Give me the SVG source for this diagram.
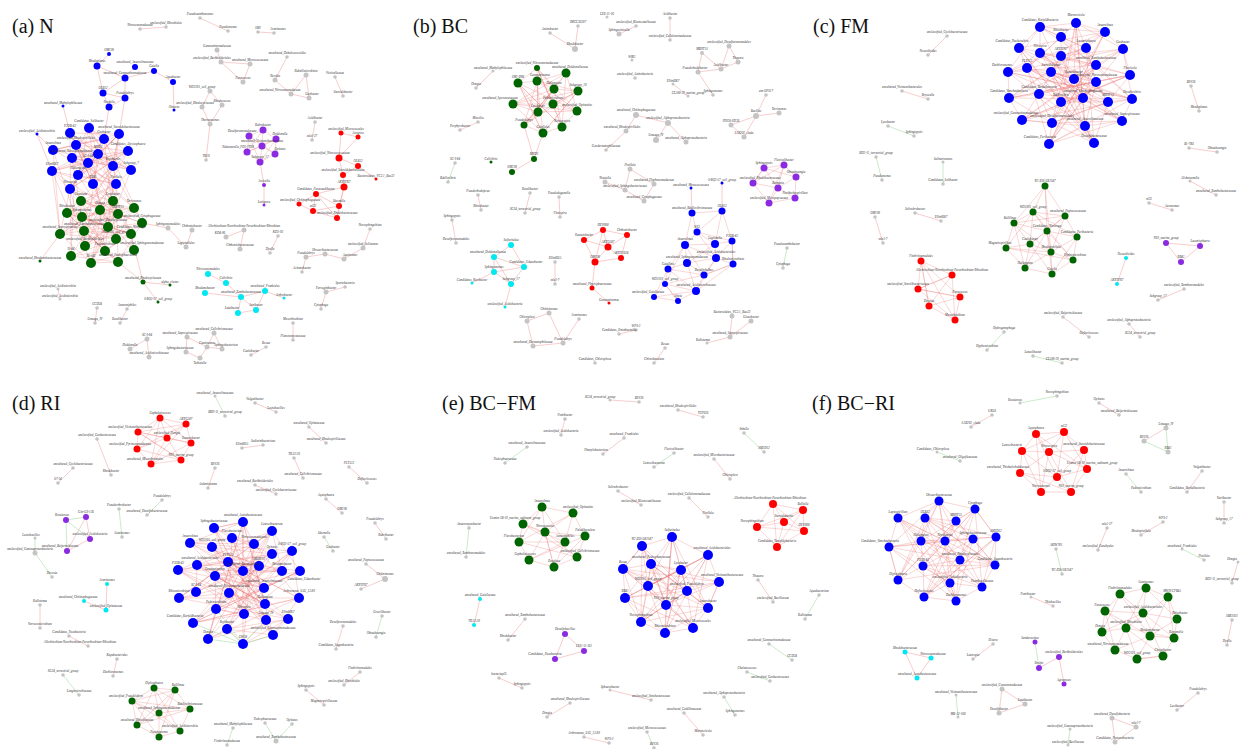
<svg xmlns="http://www.w3.org/2000/svg" width="1240" height="749" viewBox="0 0 1240 749">
<style>
text{font-family:"Liberation Serif",serif;font-style:italic;font-size:3.2px;fill:#333;text-anchor:middle}
text.t{font-style:normal;font-size:20px;fill:#111;text-anchor:start}
.b{fill:#0000ff}.g{fill:#006400}.r{fill:#ff0000}.p{fill:#8a2be2}.c{fill:#00e8f0}.y{fill:#c4c4c4}
.e{fill:none;stroke:#f3a3a3;stroke-width:.55}
.d{fill:none;stroke:#e86a6a;stroke-width:.42;stroke-opacity:.65}
.f{fill:none;stroke:#9fd89f;stroke-width:.55}
</style>
<rect width="1240" height="749" fill="#fff"/>

<!-- ============ (a) N ============ -->
<g id="panel-a">
<text class="t" x="12" y="33">(a) N</text>
<g id="a-connectors">
<path class="e" d="M109 54L97 66M97 66L125 78M97 66L103 93M135 67L125 78M154 71L125 78M154 71L173 82M173 82L174 110M125 78L103 93M125 78L125 98M103 93L125 98M103 93L109 107M125 98L109 107M109 107L104 139M125 98L119 134M63 106L70 133M37 134L53 150M37 134L52 171"/>
<path class="d" d="M89 128L98 154 70 133 113 166 119 134 78 175 104 139 93 184 76 145 116 184 53 150 131 170 72 158 128 151 52 171 88 163 70 189 119 134 53 150 104 139 70 189 128 151 76 145 113 166 89 128 131 170 98 154 52 171 93 184 72 158 116 184 78 175 119 134 70 133 88 163 128 151 89 128 104 139 53 150 98 154 116 184 52 171 119 134 88 163 76 145 131 170 70 133 93 184 113 166 72 158 89 128 78 175 128 151 70 189 98 154"/>
<path class="d" d="M81 201L118 214 67 213 108 227 113 201 84 231 134 208 116 239 100 210 60 234 142 223 85 246 82 217 134 250 131 234 105 251 71 256 118 262 91 263 113 201 60 234 118 214 85 246 134 208 100 210 71 256 116 239 81 201 142 223 105 251 67 213 131 234 84 231 118 262 82 217 108 227 91 263 134 250 100 210 81 201 134 208 82 217 131 234 108 227 85 246 113 201 67 213 105 251 84 231 116 239 60 234 91 263 118 214 142 223 118 262 105 251 81 201"/>
<path class="d" d="M78 175L100 210 70 189 113 201 93 184 118 214 52 171 81 201 116 184 67 213 113 166 82 217 131 170 108 227 88 163 134 208 72 158 84 231 128 151 60 234 53 150 85 246 98 154 131 234 70 133 71 256 76 145 116 239 104 139 142 223 89 128 105 251 119 134 91 263 52 171 60 234 70 189 85 246 116 184 118 262"/>
<path class="e" d="M60 234L40 261M118 262L143 282M131 234L143 282M143 282L170 285M143 282L158 302M142 223L168 228"/>
<path class="e" d="M140 29L166 27M200 18L228 31M258 32L274 33M217 50L221 62M221 62L250 64M221 62L243 82M250 64L243 82M287 57L275 80M275 80L291 94M306 75L291 94M306 75L309 98M291 94L309 98M335 77L343 96M315 122L312 140M210 91L222 105M210 91L202 107M202 107L210 124M222 105L210 124M210 124L206 160M168 228L186 247M192 230L186 247M226 237L244 230M244 230L240 249M278 236L270 253M370 229L363 248M363 248L344 259M344 259L325 254M325 254L306 257M306 257L302 272M345 287L326 292M326 292L321 309M208 274L226 283M226 283L241 297M205 293L241 297M241 297L256 310M241 297L238 313M238 313L256 310M256 310L265 291M265 291L284 298M265 291L241 297M293 323L293 340M187 337L186 352M186 352L200 358M187 337L207 347M207 347L200 358M214 333L207 347M214 333L222 349M207 347L222 349M266 347L251 355M147 339L130 349M147 339L149 357M97 308L95 323M127 309L120 323M58 289L60 299"/>
<path class="e" d="M264 185L264 205M264 185L260 162"/>
<path class="d" d="M263 130L249 136 247 152 260 162 275 154 276 139 263 130 262 146 249 136 275 154 262 146 247 152 276 139 260 162 262 146 276 139M263 130L247 152M249 136L260 162"/>
<path class="e" d="M341 133L358 137M341 133L339 158M358 137L339 158M339 158L358 166M339 158L343 175M358 166L343 175M358 166L376 179M343 175L344 187M344 187L316 194M344 187L339 206M344 187L337 218M316 194L299 204M316 194L313 211M316 194L339 206M313 211L339 206M313 211L337 218M339 206L337 218M299 204L313 211M316 194L337 218"/>
</g>
<g id="a-n1"><circle class="b" cx="109" cy="54" r="2"/><text x="109" y="51">OM190</text></g>
<g id="a-n2"><circle class="b" cx="97" cy="66" r="3.5"/><text x="97" y="61.5">Rhodoplanes</text></g>
<g id="a-n3"><circle class="b" cx="135" cy="67" r="3"/><text x="135" y="63">uncultured_Anaerolineaceae</text></g>
<g id="a-n4"><circle class="b" cx="154" cy="71" r="3"/><text x="154" y="67">Gaiella</text></g>
<g id="a-n5"><circle class="b" cx="125" cy="78" r="3.5"/><text x="125" y="73.5">uncultured_Gemmatimonadaceae</text></g>
<g id="a-n6"><circle class="b" cx="173" cy="82" r="3"/><text x="173" y="78">Aquabacter</text></g>
<g id="a-n7"><circle class="b" cx="103" cy="93" r="3.5"/><text x="103" y="88.5">OLB12</text></g>
<g id="a-n8"><circle class="b" cx="125" cy="98" r="3.5"/><text x="125" y="93.5">Pseudolabrys</text></g>
<g id="a-n9"><circle class="b" cx="109" cy="107" r="3.5"/><text x="109" y="102.5">Nordella</text></g>
<g id="a-n10"><circle class="b" cx="63" cy="106" r="1.5"/><text x="63" y="103.5">uncultured_Methylophilaceae</text></g>
<g id="a-n11"><circle class="b" cx="174" cy="110" r="1.5"/><text x="174" y="107.5">Ottowia</text></g>
<g id="a-n12"><circle class="b" cx="37" cy="134" r="1.5"/><text x="37" y="131.5">unclassified_Acidimicrobiia</text></g>
<g id="a-n13"><circle class="b" cx="89" cy="128" r="5"/><text x="89" y="122">Candidatus_Solibacter</text></g>
<g id="a-n14"><circle class="b" cx="70" cy="133" r="5"/><text x="70" y="127">P3OB-42</text></g>
<g id="a-n15"><circle class="b" cx="119" cy="134" r="5"/><text x="119" y="128">uncultured_Steroidobacteraceae</text></g>
<g id="a-n16"><circle class="b" cx="104" cy="139" r="5"/><text x="104" y="133">Geobacter</text></g>
<g id="a-n17"><circle class="b" cx="76" cy="145" r="5"/><text x="76" y="139">unclassified_Rhodospirillales</text></g>
<g id="a-n18"><circle class="b" cx="53" cy="150" r="5"/><text x="53" y="144">Anaerolinea</text></g>
<g id="a-n19"><circle class="b" cx="128" cy="151" r="5"/><text x="128" y="145">Candidatus_Alysiosphaera</text></g>
<g id="a-n20"><circle class="b" cx="98" cy="154" r="5"/><text x="98" y="148">MND1</text></g>
<g id="a-n21"><circle class="b" cx="72" cy="158" r="5"/><text x="72" y="152">uncultured_Nitrosomonadaceae</text></g>
<g id="a-n22"><circle class="b" cx="88" cy="163" r="5"/><text x="88" y="157">SC-I-84</text></g>
<g id="a-n23"><circle class="b" cx="113" cy="166" r="5"/><text x="113" y="160">Bryobacter</text></g>
<g id="a-n24"><circle class="b" cx="52" cy="171" r="5"/><text x="52" y="165">Ellin6067</text></g>
<g id="a-n25"><circle class="b" cx="131" cy="170" r="5"/><text x="131" y="164">Subgroup_7</text></g>
<g id="a-n26"><circle class="b" cx="78" cy="175" r="5"/><text x="78" y="169">Haliangium</text></g>
<g id="a-n27"><circle class="b" cx="93" cy="184" r="5"/><text x="93" y="178">RB41</text></g>
<g id="a-n28"><circle class="b" cx="116" cy="184" r="5"/><text x="116" y="178">Pirellula</text></g>
<g id="a-n29"><circle class="b" cx="70" cy="189" r="5"/><text x="70" y="183">Nitrospira</text></g>
<g id="a-n30"><circle class="g" cx="81" cy="201" r="5"/><text x="81" y="195">Gemmata</text></g>
<g id="a-n31"><circle class="g" cx="113" cy="201" r="5"/><text x="113" y="195">Lysobacter</text></g>
<g id="a-n32"><circle class="g" cx="134" cy="208" r="5"/><text x="134" y="202">Terrimonas</text></g>
<g id="a-n33"><circle class="g" cx="100" cy="210" r="5"/><text x="100" y="204">Dongia</text></g>
<g id="a-n34"><circle class="g" cx="67" cy="213" r="5"/><text x="67" y="207">Rhizobacter</text></g>
<g id="a-n35"><circle class="g" cx="118" cy="214" r="5"/><text x="118" y="208">MBNT15</text></g>
<g id="a-n36"><circle class="g" cx="82" cy="217" r="5"/><text x="82" y="211">Sphingomonas</text></g>
<g id="a-n37"><circle class="g" cx="142" cy="223" r="5"/><text x="142" y="217">unclassified_Cytophagaceae</text></g>
<g id="a-n38"><circle class="g" cx="108" cy="227" r="5"/><text x="108" y="221">unclassified_Rhodocyclaceae</text></g>
<g id="a-n39"><circle class="g" cx="84" cy="231" r="5"/><text x="84" y="225">uncultured_Xanthobacteraceae</text></g>
<g id="a-n40"><circle class="g" cx="60" cy="234" r="5"/><text x="60" y="228">uncultured_Saprospiraceae</text></g>
<g id="a-n41"><circle class="g" cx="131" cy="234" r="5"/><text x="131" y="228">Candidatus_Nitrotoga</text></g>
<g id="a-n42"><circle class="g" cx="116" cy="239" r="5"/><text x="116" y="233">WD2101_soil_group</text></g>
<g id="a-n43"><circle class="g" cx="85" cy="246" r="5"/><text x="85" y="240">unclassified_Burkholderiales</text></g>
<g id="a-n44"><circle class="g" cx="105" cy="251" r="5"/><text x="105" y="245">Pedomicrobium</text></g>
<g id="a-n45"><circle class="g" cx="134" cy="250" r="5"/><text x="142" y="244">unclassified_Sphingomonadaceae</text></g>
<g id="a-n46"><circle class="g" cx="71" cy="256" r="5"/><text x="71" y="250">IS-44</text></g>
<g id="a-n47"><circle class="g" cx="91" cy="263" r="5"/><text x="91" y="257">BIrii41</text></g>
<g id="a-n48"><circle class="g" cx="118" cy="262" r="5"/><text x="118" y="256">uncultured_Pedosphaeraceae</text></g>
<g id="a-n49"><circle class="g" cx="40" cy="261" r="1.5"/><text x="40" y="258.5">uncultured_Rhodanobacteraceae</text></g>
<g id="a-n50"><circle class="g" cx="143" cy="282" r="2.5"/><text x="143" y="278.5">uncultured_Rhodocyclaceae</text></g>
<g id="a-n51"><circle class="g" cx="170" cy="285" r="1.5"/><text x="170" y="282.5">alpha_cluster</text></g>
<g id="a-n52"><circle class="g" cx="158" cy="302" r="1.5"/><text x="158" y="299.5">S-BQ2-57_soil_group</text></g>
<g id="a-n53"><circle class="y" cx="140" cy="29" r="1.8"/><text x="140" y="26">Nitrosomonadaceae</text></g>
<g id="a-n54"><circle class="y" cx="166" cy="27" r="1.8"/><text x="166" y="24">unclassified_Rhizobiales</text></g>
<g id="a-n55"><circle class="y" cx="200" cy="18" r="1.8"/><text x="200" y="15">Pseudoxanthomonas</text></g>
<g id="a-n56"><circle class="y" cx="228" cy="31" r="1.8"/><text x="228" y="28">Pseudomonas</text></g>
<g id="a-n57"><circle class="y" cx="258" cy="32" r="1.8"/><text x="258" y="29">SM1</text></g>
<g id="a-n58"><circle class="y" cx="274" cy="33" r="1.8"/><text x="278" y="30">Arenimonas</text></g>
<g id="a-n59"><circle class="y" cx="217" cy="50" r="2.5"/><text x="217" y="46.5">Gemmatimonadaceae</text></g>
<g id="a-n60"><circle class="y" cx="221" cy="62" r="2.5"/><text x="212" y="58.5">unclassified_Burkholderiales</text></g>
<g id="a-n61"><circle class="y" cx="250" cy="64" r="2.5"/><text x="250" y="60.5">uncultured_Micrococcaceae</text></g>
<g id="a-n62"><circle class="y" cx="243" cy="82" r="2.5"/><text x="243" y="78.5">Paracoccus</text></g>
<g id="a-n63"><circle class="y" cx="287" cy="57" r="1.8"/><text x="287" y="54">uncultured_Dehalococcoidia</text></g>
<g id="a-n64"><circle class="y" cx="275" cy="80" r="2.5"/><text x="275" y="76.5">Nevskia</text></g>
<g id="a-n65"><circle class="y" cx="306" cy="75" r="2.5"/><text x="306" y="71.5">Rubellimicrobium</text></g>
<g id="a-n66"><circle class="y" cx="291" cy="94" r="2.5"/><text x="280" y="90.5">uncultured_Nitrosomonadaceae</text></g>
<g id="a-n67"><circle class="y" cx="309" cy="98" r="2.5"/><text x="312" y="94.5">Geobacter</text></g>
<g id="a-n68"><circle class="y" cx="335" cy="77" r="1.8"/><text x="335" y="74">Victivallaceae</text></g>
<g id="a-n69"><circle class="y" cx="343" cy="96" r="1.8"/><text x="343" y="93">Steroidobacter</text></g>
<g id="a-n70"><circle class="y" cx="315" cy="122" r="1.8"/><text x="315" y="119">Acidibacter</text></g>
<g id="a-n71"><circle class="y" cx="312" cy="140" r="1.8"/><text x="312" y="137">mle1-27</text></g>
<g id="a-n72"><circle class="y" cx="210" cy="91" r="2.5"/><text x="202" y="87.5">WD2101_soil_group</text></g>
<g id="a-n73"><circle class="y" cx="222" cy="105" r="2.5"/><text x="222" y="101.5">Rhodococcus</text></g>
<g id="a-n74"><circle class="y" cx="202" cy="107" r="2.5"/><text x="195" y="103.5">unclassified_Rhodocyclaceae</text></g>
<g id="a-n75"><circle class="y" cx="210" cy="124" r="2.5"/><text x="210" y="120.5">Thermomonas</text></g>
<g id="a-n76"><circle class="y" cx="206" cy="160" r="1.8"/><text x="206" y="157">TK10</text></g>
<g id="a-n77"><circle class="y" cx="168" cy="228" r="2.5"/><text x="168" y="224.5">Sphingomonadales</text></g>
<g id="a-n78"><circle class="y" cx="192" cy="230" r="2.5"/><text x="192" y="226.5">Chthoniobacter</text></g>
<g id="a-n79"><circle class="y" cx="186" cy="247" r="2.5"/><text x="186" y="243.5">Legionellales</text></g>
<g id="a-n80"><circle class="y" cx="226" cy="237" r="2.5"/><text x="220" y="233.5">KD4-96</text></g>
<g id="a-n81"><circle class="y" cx="244" cy="230" r="2.5"/><text x="244" y="226.5">Allorhizobium-Neorhizobium-Pararhizobium-Rhizobium</text></g>
<g id="a-n82"><circle class="y" cx="240" cy="249" r="2.5"/><text x="240" y="245.5">Chthoniobacteraceae</text></g>
<g id="a-n83"><circle class="y" cx="278" cy="236" r="1.8"/><text x="278" y="233">KD3-93</text></g>
<g id="a-n84"><circle class="y" cx="270" cy="253" r="1.8"/><text x="270" y="250">Dyella</text></g>
<g id="a-n85"><circle class="y" cx="370" cy="229" r="1.8"/><text x="370" y="226">Novosphingobium</text></g>
<g id="a-n86"><circle class="y" cx="363" cy="248" r="2.5"/><text x="363" y="244.5">unclassified_Solimonas</text></g>
<g id="a-n87"><circle class="y" cx="344" cy="259" r="2.5"/><text x="350" y="255.5">Aquimonas</text></g>
<g id="a-n88"><circle class="y" cx="325" cy="254" r="2.5"/><text x="325" y="250.5">Obscuribacteraceae</text></g>
<g id="a-n89"><circle class="y" cx="306" cy="257" r="2.5"/><text x="306" y="253.5">Pseudolabrys</text></g>
<g id="a-n90"><circle class="y" cx="302" cy="272" r="1.8"/><text x="302" y="269">Acinetobacter</text></g>
<g id="a-n91"><circle class="y" cx="345" cy="287" r="1.8"/><text x="345" y="284">Spartobacteria</text></g>
<g id="a-n92"><circle class="y" cx="326" cy="292" r="2.5"/><text x="326" y="288.5">Ferruginibacter</text></g>
<g id="a-n93"><circle class="y" cx="321" cy="309" r="1.8"/><text x="321" y="306">Cytophaga</text></g>
<g id="a-n94"><circle class="c" cx="208" cy="274" r="3"/><text x="208" y="270">Nitrosomonadales</text></g>
<g id="a-n95"><circle class="c" cx="226" cy="283" r="3"/><text x="226" y="279">Cellvibrio</text></g>
<g id="a-n96"><circle class="c" cx="205" cy="293" r="3"/><text x="205" y="289">Rhodanobacter</text></g>
<g id="a-n97"><circle class="c" cx="241" cy="297" r="3"/><text x="241" y="293">uncultured_Xanthobacteraceae</text></g>
<g id="a-n98"><circle class="c" cx="265" cy="291" r="3"/><text x="265" y="287">uncultured_Frankiales</text></g>
<g id="a-n99"><circle class="c" cx="284" cy="298" r="1.5"/><text x="284" y="295.5">Arthrobacter</text></g>
<g id="a-n100"><circle class="c" cx="256" cy="310" r="3"/><text x="256" y="306">Janibacter</text></g>
<g id="a-n101"><circle class="c" cx="238" cy="313" r="3"/><text x="232" y="309">Luteibacter</text></g>
<g id="a-n102"><circle class="y" cx="293" cy="323" r="1.8"/><text x="293" y="320">Mesorhizobium</text></g>
<g id="a-n103"><circle class="y" cx="293" cy="340" r="1.8"/><text x="293" y="337">Planctomycetaceae</text></g>
<g id="a-n104"><circle class="y" cx="187" cy="337" r="2.5"/><text x="180" y="333.5">uncultured_Saprospiraceae</text></g>
<g id="a-n105"><circle class="y" cx="186" cy="352" r="2.5"/><text x="180" y="348.5">Sphingobacteriaceae</text></g>
<g id="a-n106"><circle class="y" cx="200" cy="358" r="2.5"/><text x="200" y="364">Taibaiella</text></g>
<g id="a-n107"><circle class="y" cx="207" cy="347" r="2.5"/><text x="207" y="343.5">Caenimonas</text></g>
<g id="a-n108"><circle class="y" cx="214" cy="333" r="2.5"/><text x="214" y="329.5">uncultured_Cellvibrionaceae</text></g>
<g id="a-n109"><circle class="y" cx="222" cy="349" r="2.5"/><text x="226" y="345.5">Sphingobacterium</text></g>
<g id="a-n110"><circle class="y" cx="266" cy="347" r="1.8"/><text x="266" y="344">Bosea</text></g>
<g id="a-n111"><circle class="y" cx="251" cy="355" r="1.8"/><text x="251" y="352">Caulobacter</text></g>
<g id="a-n112"><circle class="y" cx="147" cy="339" r="2.5"/><text x="147" y="335.5">SC-I-84</text></g>
<g id="a-n113"><circle class="y" cx="130" cy="349" r="2.5"/><text x="130" y="345.5">Dokdonella</text></g>
<g id="a-n114"><circle class="y" cx="149" cy="357" r="2.5"/><text x="149" y="353.5">uncultured_Acidimicrobiaceae</text></g>
<g id="a-n115"><circle class="y" cx="97" cy="308" r="1.8"/><text x="97" y="305">CCD24</text></g>
<g id="a-n116"><circle class="y" cx="95" cy="323" r="1.8"/><text x="95" y="320">Lineage_IV</text></g>
<g id="a-n117"><circle class="y" cx="127" cy="309" r="1.8"/><text x="127" y="306">Ammoniphilus</text></g>
<g id="a-n118"><circle class="y" cx="120" cy="323" r="1.8"/><text x="120" y="320">Ramlibacter</text></g>
<g id="a-n119"><circle class="y" cx="58" cy="289" r="1.5"/><text x="58" y="286.5">unclassified_Acidimicrobiia</text></g>
<g id="a-n120"><circle class="y" cx="60" cy="299" r="1.5"/><text x="60" y="296.5">unclassified_Acidimicrobiia</text></g>
<g id="a-n121"><circle class="p" cx="263" cy="130" r="3.5"/><text x="263" y="125.5">Rubrobacter</text></g>
<g id="a-n122"><circle class="p" cx="249" cy="136" r="3.5"/><text x="242" y="131.5">Desulfuromonadaceae</text></g>
<g id="a-n123"><circle class="p" cx="276" cy="139" r="3.5"/><text x="280" y="134.5">Dokdonella</text></g>
<g id="a-n124"><circle class="p" cx="262" cy="146" r="3.5"/><text x="262" y="141.5">uncultured_Vicinamibacteraceae</text></g>
<g id="a-n125"><circle class="p" cx="247" cy="152" r="3.5"/><text x="238" y="147.5">Nakamurella_PD2-7T08</text></g>
<g id="a-n126"><circle class="p" cx="275" cy="154" r="3.5"/><text x="280" y="149.5">Opitutus</text></g>
<g id="a-n127"><circle class="p" cx="260" cy="162" r="3.5"/><text x="260" y="157.5">Subgroup_17</text></g>
<g id="a-n128"><circle class="p" cx="264" cy="185" r="2"/><text x="264" y="182">Arcicella</text></g>
<g id="a-n129"><circle class="p" cx="264" cy="205" r="1.5"/><text x="264" y="202.5">Lutispora</text></g>
<g id="a-n131"><circle class="r" cx="341" cy="133" r="2.5"/><text x="346" y="129.5">unclassified_Micrococcales</text></g>
<g id="a-n132"><circle class="r" cx="358" cy="137" r="2.5"/><text x="358" y="133.5">Azospira</text></g>
<g id="a-n133"><circle class="r" cx="339" cy="158" r="3.5"/><text x="330" y="153.5">unclassified_Nitrosococcaceae</text></g>
<g id="a-n134"><circle class="r" cx="358" cy="166" r="3"/><text x="358" y="162">OLB12</text></g>
<g id="a-n135"><circle class="r" cx="343" cy="175" r="3"/><text x="343" y="171">unclassified_Steroidobacteraceae</text></g>
<g id="a-n136"><circle class="r" cx="376" cy="179" r="1.5"/><text x="376" y="176.5">Bacteroidetes_VC2.1_Bac22</text></g>
<g id="a-n137"><circle class="r" cx="344" cy="187" r="3.5"/><text x="344" y="182.5">AKYH767</text></g>
<g id="a-n138"><circle class="r" cx="316" cy="194" r="3"/><text x="316" y="190">Candidatus_Paracaedibacter</text></g>
<g id="a-n139"><circle class="r" cx="299" cy="204" r="2.5"/><text x="300" y="200.5">unclassified_Chitinophagaceae</text></g>
<g id="a-n140"><circle class="r" cx="339" cy="206" r="3"/><text x="339" y="202">Ideonella</text></g>
<g id="a-n141"><circle class="r" cx="313" cy="211" r="3"/><text x="313" y="207">ml32</text></g>
<g id="a-n142"><circle class="r" cx="337" cy="218" r="3"/><text x="337" y="214">unclassified_Rhodobacteraceae</text></g>
</g>

<!-- ============ (b) BC ============ -->
<g id="panel-b">
<text class="t" x="413" y="33">(b) BC</text>
<g id="b-connectors">
<path class="e" d="M550 33L575 49M578 26L575 49M493 71L476 88M478 122L460 130M478 195L481 210M530 193L525 213M559 197L560 217M452 220L456 243M555 262L555 284M549 313L527 321M549 313L563 343M527 321L533 346M533 346L563 343M563 343L579 319M605 182L625 190M630 169L625 190M625 190L644 201M654 184L644 201M630 169L654 184M670 18L670 40M636 26L619 34M729 46L738 62M702 53L721 69M702 53L698 72M721 69L738 62M729 46L721 69M698 72L713 95M698 72L721 69M673 84L688 96M766 95L756 116M756 116L779 113M756 116L731 125M731 125L744 137M756 116L744 137M636 115L668 123M668 123L656 140M668 123L686 142M636 115L626 131M626 131L606 150M691 188L692 213M722 183L722 211M732 316L730 337M751 321L730 337M730 337L707 343M665 348L654 363M636 330L619 334M524 125L534 159M543 133L534 159M534 159L512 172"/>
<path class="f" d="M455 163L448 182M787 248L783 268"/>
<path class="d" d="M537 68L538 112 566 73 513 104 578 91 543 133 518 83 577 111 537 81 524 125 554 89 562 127 553 104 537 68 554 89 513 104 577 111 566 73 537 81 543 133 578 91 524 125 538 112 518 83 562 127 537 68 553 104 578 91 537 81 538 112 554 89 524 125 566 73 562 127 518 83 543 133 513 104 553 104 577 111 537 68 518 83 537 81 554 89 578 91 553 104 524 125 543 133 562 127 577 111 538 112 513 104"/>
<path class="e" d="M511 245L494 257M511 245L524 267M494 257L524 267M494 257L494 272M494 272L524 267M494 272L511 284M524 267L511 284M494 272L472 283M511 284L505 307M494 257L511 284"/>
<path class="e" d="M603 230L584 240M603 230L608 247M584 240L608 247M584 240L595 262M608 247L595 262M603 230L627 235M608 247L627 235M608 247L621 258M595 262L621 258M627 235L621 258M603 230L595 262M595 262L592 288M592 288L609 303"/>
<path class="d" d="M692 213L722 211 697 232 692 213 685 245 697 232 715 244 722 211 732 241 715 244 716 258 733 264 732 241 716 258 687 263 685 245 668 269 687 263 704 275 716 258 696 291 704 275 733 264 696 291 665 284 668 269 654 297 665 284 678 301 696 291 687 263 715 244 685 245 716 258 697 232 732 241 733 264 704 275 665 284 678 301 654 297 696 291 668 269 704 275 685 245 665 284"/>
<path class="d" d="M764 168L784 165 796 177 778 188 764 168 753 183 778 188 769 203 753 183 764 168 796 177 795 198 778 188 784 165 753 183M769 203L795 198M784 165L769 203"/>
</g>
<g id="b-n1"><circle class="y" cx="550" cy="33" r="1.8"/><text x="550" y="30">Aminobacter</text></g>
<g id="b-n2"><circle class="y" cx="578" cy="26" r="1.8"/><text x="578" y="23">IMCC26207</text></g>
<g id="b-n3"><circle class="y" cx="575" cy="49" r="3"/><text x="575" y="45">Rhodobacter</text></g>
<g id="b-n4"><circle class="g" cx="537" cy="68" r="3"/><text x="537" y="64">unclassified_Nitrosomonadaceae</text></g>
<g id="b-n5"><circle class="g" cx="566" cy="73" r="4.5"/><text x="570" y="67.5">uncultured_Dokdonellaceae</text></g>
<g id="b-n6"><circle class="g" cx="518" cy="83" r="4.5"/><text x="518" y="77.5">SM1-D08</text></g>
<g id="b-n7"><circle class="g" cx="537" cy="81" r="4.5"/><text x="540" y="75.5">Gemmatimonas</text></g>
<g id="b-n8"><circle class="g" cx="554" cy="89" r="4.5"/><text x="554" y="83.5">Haliangium</text></g>
<g id="b-n9"><circle class="g" cx="578" cy="91" r="4.5"/><text x="578" y="85.5">Subgroup_10</text></g>
<g id="b-n10"><circle class="g" cx="513" cy="104" r="4.5"/><text x="500" y="98.5">uncultured_Sporomusaceae</text></g>
<g id="b-n11"><circle class="g" cx="553" cy="104" r="4.5"/><text x="553" y="98.5">Pedomicrobium</text></g>
<g id="b-n12"><circle class="g" cx="538" cy="112" r="4.5"/><text x="538" y="106.5">Lysobacter</text></g>
<g id="b-n13"><circle class="g" cx="577" cy="111" r="4.5"/><text x="577" y="105.5">unclassified_Opitutales</text></g>
<g id="b-n14"><circle class="g" cx="524" cy="125" r="3.5"/><text x="524" y="120.5">Pseudolabrys</text></g>
<g id="b-n15"><circle class="g" cx="562" cy="127" r="4.5"/><text x="562" y="121.5">Nitrosospira</text></g>
<g id="b-n16"><circle class="g" cx="543" cy="133" r="4.5"/><text x="543" y="127.5">Gaiellales</text></g>
<g id="b-n17"><circle class="g" cx="534" cy="159" r="3"/><text x="534" y="155">MND1</text></g>
<g id="b-n18"><circle class="g" cx="491" cy="162" r="1.5"/><text x="491" y="159.5">Cellvibrio</text></g>
<g id="b-n19"><circle class="g" cx="512" cy="172" r="3"/><text x="512" y="168">OM190</text></g>
<g id="b-n20"><circle class="y" cx="493" cy="71" r="1.5"/><text x="493" y="68.5">uncultured_Methylophilaceae</text></g>
<g id="b-n21"><circle class="y" cx="476" cy="88" r="1.8"/><text x="476" y="85">Dongia</text></g>
<g id="b-n22"><circle class="y" cx="478" cy="122" r="1.8"/><text x="478" y="119">Massilia</text></g>
<g id="b-n23"><circle class="y" cx="460" cy="130" r="1.8"/><text x="460" y="127">Porphyrobacter</text></g>
<g id="b-n24"><circle class="y" cx="455" cy="163" r="1.8"/><text x="455" y="160">SC-I-84</text></g>
<g id="b-n25"><circle class="y" cx="448" cy="182" r="1.8"/><text x="448" y="179">Bdellovibrio</text></g>
<g id="b-n26"><circle class="y" cx="478" cy="195" r="1.8"/><text x="478" y="192">Pseudorhodoferax</text></g>
<g id="b-n27"><circle class="y" cx="481" cy="210" r="1.8"/><text x="481" y="207">Rhizobacter</text></g>
<g id="b-n28"><circle class="y" cx="530" cy="193" r="1.8"/><text x="530" y="190">Ramlibacter</text></g>
<g id="b-n29"><circle class="y" cx="525" cy="213" r="1.8"/><text x="525" y="210">SG34_terrestrial_group</text></g>
<g id="b-n30"><circle class="y" cx="559" cy="197" r="1.8"/><text x="559" y="194">Pseudoduganella</text></g>
<g id="b-n31"><circle class="y" cx="560" cy="217" r="1.8"/><text x="560" y="214">Flexispira</text></g>
<g id="b-n32"><circle class="y" cx="452" cy="220" r="1.8"/><text x="452" y="217">Sphingopyxis</text></g>
<g id="b-n33"><circle class="y" cx="456" cy="243" r="1.8"/><text x="456" y="240">Desulfuromonadales</text></g>
<g id="b-n34"><circle class="c" cx="511" cy="245" r="3"/><text x="511" y="241">Sulfuritalea</text></g>
<g id="b-n35"><circle class="c" cx="494" cy="257" r="3"/><text x="488" y="253">uncultured_Dokdonellaceae</text></g>
<g id="b-n36"><circle class="c" cx="524" cy="267" r="3"/><text x="526" y="263">Candidatus_Udaeobacter</text></g>
<g id="b-n37"><circle class="c" cx="494" cy="272" r="3"/><text x="494" y="268">Sphingomonas</text></g>
<g id="b-n38"><circle class="c" cx="511" cy="284" r="3"/><text x="511" y="280">Subgroup_17</text></g>
<g id="b-n39"><circle class="c" cx="472" cy="283" r="1.5"/><text x="472" y="280.5">Candidatus_Koribacter</text></g>
<g id="b-n40"><circle class="c" cx="505" cy="307" r="1.5"/><text x="505" y="304.5">unclassified_Acidobacteria</text></g>
<g id="b-n41"><circle class="y" cx="555" cy="262" r="1.8"/><text x="555" y="259">Ellin6055</text></g>
<g id="b-n42"><circle class="y" cx="555" cy="284" r="1.8"/><text x="555" y="281">mle1-7</text></g>
<g id="b-n43"><circle class="r" cx="603" cy="230" r="3"/><text x="603" y="226">DEV008</text></g>
<g id="b-n44"><circle class="r" cx="584" cy="240" r="3"/><text x="584" y="236">Ilumatobacter</text></g>
<g id="b-n45"><circle class="r" cx="608" cy="247" r="3.5"/><text x="608" y="242.5">AKYG587</text></g>
<g id="b-n46"><circle class="r" cx="595" cy="262" r="3.5"/><text x="595" y="257.5">OM190</text></g>
<g id="b-n47"><circle class="r" cx="627" cy="235" r="3"/><text x="627" y="231">Chthoniobacter</text></g>
<g id="b-n48"><circle class="r" cx="621" cy="258" r="3"/><text x="621" y="254">AKYH1024</text></g>
<g id="b-n49"><circle class="r" cx="592" cy="288" r="2.5"/><text x="592" y="284.5">uncultured_Phycisphaeraceae</text></g>
<g id="b-n50"><circle class="r" cx="609" cy="303" r="1.5"/><text x="609" y="300.5">Gemmatimonas</text></g>
<g id="b-n51"><circle class="y" cx="549" cy="313" r="2.5"/><text x="549" y="309.5">Chitinimonas</text></g>
<g id="b-n52"><circle class="y" cx="527" cy="321" r="2.5"/><text x="527" y="317.5">Chloroplast</text></g>
<g id="b-n53"><circle class="y" cx="563" cy="343" r="2.5"/><text x="563" y="339.5">Pseudolabrys</text></g>
<g id="b-n54"><circle class="y" cx="533" cy="346" r="2.5"/><text x="533" y="342.5">uncultured_Dermatophilaceae</text></g>
<g id="b-n55"><circle class="y" cx="579" cy="319" r="1.8"/><text x="579" y="316">Arenimonas</text></g>
<g id="b-n56"><circle class="y" cx="595" cy="363" r="1.8"/><text x="595" y="360">Candidatus_Chloroploca</text></g>
<g id="b-n57"><circle class="y" cx="605" cy="182" r="2.5"/><text x="605" y="178.5">Niastella</text></g>
<g id="b-n58"><circle class="y" cx="630" cy="169" r="2.5"/><text x="630" y="165.5">Pirellula</text></g>
<g id="b-n59"><circle class="y" cx="654" cy="184" r="2.5"/><text x="654" y="180.5">uncultured_Hyphomonadaceae</text></g>
<g id="b-n60"><circle class="y" cx="625" cy="190" r="2.5"/><text x="625" y="186.5">unclassified_Sphingobacteriaceae</text></g>
<g id="b-n61"><circle class="y" cx="644" cy="201" r="2.5"/><text x="644" y="197.5">uncultured_Cytophagaceae</text></g>
<g id="b-n62"><circle class="y" cx="670" cy="18" r="1.8"/><text x="670" y="15">Aridibacter</text></g>
<g id="b-n63"><circle class="y" cx="670" cy="40" r="1.8"/><text x="670" y="37">unclassified_Cellulomonadaceae</text></g>
<g id="b-n64"><circle class="y" cx="636" cy="26" r="1.8"/><text x="636" y="23">unclassified_Blastocatellaceae</text></g>
<g id="b-n65"><circle class="y" cx="619" cy="34" r="2.5"/><text x="619" y="30.5">Sphingosinicella</text></g>
<g id="b-n66"><circle class="y" cx="607" cy="17" r="1.5"/><text x="607" y="14.5">LEE-11-16</text></g>
<g id="b-n67"><circle class="y" cx="632" cy="60" r="1.5"/><text x="632" y="57.5">WIK1</text></g>
<g id="b-n68"><circle class="y" cx="635" cy="78" r="1.8"/><text x="635" y="75">unclassified_Actinobacteria</text></g>
<g id="b-n69"><circle class="y" cx="729" cy="46" r="2.5"/><text x="729" y="42.5">unclassified_Desulfuromonadales</text></g>
<g id="b-n70"><circle class="y" cx="702" cy="53" r="2"/><text x="702" y="50">MBNT15</text></g>
<g id="b-n71"><circle class="y" cx="738" cy="62" r="2.5"/><text x="738" y="58.5">Thauera</text></g>
<g id="b-n72"><circle class="y" cx="721" cy="69" r="2.5"/><text x="721" y="65.5">Acidibacter</text></g>
<g id="b-n73"><circle class="y" cx="698" cy="72" r="2.5"/><text x="695" y="68.5">Pseudorhodobacter</text></g>
<g id="b-n74"><circle class="y" cx="713" cy="95" r="1.8"/><text x="713" y="92">Sphingomonas</text></g>
<g id="b-n75"><circle class="y" cx="673" cy="84" r="1.5"/><text x="673" y="81.5">Ellin6067</text></g>
<g id="b-n76"><circle class="y" cx="688" cy="96" r="1.5"/><text x="688" y="93.5">CL500-29_marine_group</text></g>
<g id="b-n77"><circle class="y" cx="766" cy="95" r="1.8"/><text x="766" y="92">env.OPS17</text></g>
<g id="b-n78"><circle class="y" cx="756" cy="116" r="3"/><text x="756" y="112">Bacillus</text></g>
<g id="b-n79"><circle class="y" cx="779" cy="113" r="2.5"/><text x="779" y="109.5">Terrimonas</text></g>
<g id="b-n80"><circle class="y" cx="731" cy="125" r="2.5"/><text x="731" y="121.5">PHOS-HE36</text></g>
<g id="b-n81"><circle class="y" cx="744" cy="137" r="2.5"/><text x="744" y="133.5">SAR202_clade</text></g>
<g id="b-n82"><circle class="y" cx="636" cy="115" r="3"/><text x="636" y="111">uncultured_Chitinophagaceae</text></g>
<g id="b-n83"><circle class="y" cx="668" cy="123" r="3"/><text x="668" y="119">unclassified_Alphaproteobacteria</text></g>
<g id="b-n84"><circle class="y" cx="626" cy="131" r="2.5"/><text x="622" y="127.5">uncultured_Rhodospirillales</text></g>
<g id="b-n85"><circle class="y" cx="656" cy="140" r="3"/><text x="656" y="136">Lineage_IV</text></g>
<g id="b-n86"><circle class="y" cx="686" cy="142" r="2.5"/><text x="686" y="138.5">uncultured_Alphaproteobacteria</text></g>
<g id="b-n87"><circle class="y" cx="606" cy="150" r="1.8"/><text x="606" y="147">Geodermatophilaceae</text></g>
<g id="b-n88"><circle class="b" cx="691" cy="188" r="1.5"/><text x="691" y="185.5">uncultured_Myxococcaceae</text></g>
<g id="b-n89"><circle class="b" cx="722" cy="183" r="1.5"/><text x="722" y="180.5">S-BQ2-57_soil_group</text></g>
<g id="b-n90"><circle class="b" cx="692" cy="213" r="3.5"/><text x="692" y="208.5">uncultured_Bdellovibrionaceae</text></g>
<g id="b-n91"><circle class="b" cx="722" cy="211" r="3.5"/><text x="722" y="206.5">OLB12</text></g>
<g id="b-n92"><circle class="b" cx="697" cy="232" r="3.5"/><text x="697" y="227.5">WS3</text></g>
<g id="b-n93"><circle class="b" cx="685" cy="245" r="4"/><text x="685" y="240">Anaerolinea</text></g>
<g id="b-n94"><circle class="b" cx="715" cy="244" r="4"/><text x="715" y="239">Legionella</text></g>
<g id="b-n95"><circle class="b" cx="732" cy="241" r="3.5"/><text x="732" y="236.5">P3OB-42</text></g>
<g id="b-n96"><circle class="b" cx="716" cy="258" r="4"/><text x="716" y="253">unclassified_Acidobacteriales</text></g>
<g id="b-n97"><circle class="b" cx="687" cy="263" r="4"/><text x="687" y="258">uncultured_Sphingomonadaceae</text></g>
<g id="b-n98"><circle class="b" cx="733" cy="264" r="3.5"/><text x="733" y="259.5">Rhodomicrobium</text></g>
<g id="b-n99"><circle class="b" cx="668" cy="269" r="3.5"/><text x="668" y="264.5">Gaiellina</text></g>
<g id="b-n100"><circle class="b" cx="704" cy="275" r="3.5"/><text x="704" y="270.5">Desulfobulbus</text></g>
<g id="b-n101"><circle class="b" cx="665" cy="284" r="3"/><text x="665" y="280">WD2101_soil_group</text></g>
<g id="b-n102"><circle class="b" cx="696" cy="291" r="4"/><text x="696" y="286">uncultured_Acidimicrobiaceae</text></g>
<g id="b-n103"><circle class="b" cx="654" cy="297" r="3"/><text x="648" y="293">unclassified_Gaiellaceae</text></g>
<g id="b-n104"><circle class="b" cx="678" cy="301" r="3"/><text x="678" y="297">Afipia</text></g>
<g id="b-n105"><circle class="p" cx="764" cy="168" r="3.5"/><text x="764" y="163.5">Sphingopyxis</text></g>
<g id="b-n106"><circle class="p" cx="784" cy="165" r="3.5"/><text x="784" y="160.5">Flavisolibacter</text></g>
<g id="b-n107"><circle class="p" cx="796" cy="177" r="3.5"/><text x="796" y="172.5">Ohtaekwangia</text></g>
<g id="b-n108"><circle class="p" cx="753" cy="183" r="3.5"/><text x="760" y="178.5">unclassified_Rhodobacteraceae</text></g>
<g id="b-n109"><circle class="p" cx="778" cy="188" r="3.5"/><text x="778" y="183.5">Belnapia</text></g>
<g id="b-n110"><circle class="p" cx="769" cy="203" r="3.5"/><text x="769" y="198.5">unclassified_Micropepsaceae</text></g>
<g id="b-n111"><circle class="p" cx="795" cy="198" r="3.5"/><text x="795" y="193.5">Noviherbaspirillum</text></g>
<g id="b-n112"><circle class="y" cx="787" cy="248" r="1.8"/><text x="787" y="245">Pseudoxanthobacter</text></g>
<g id="b-n113"><circle class="y" cx="783" cy="268" r="1.8"/><text x="783" y="265">Cytophaga</text></g>
<g id="b-n114"><circle class="y" cx="732" cy="316" r="2.5"/><text x="732" y="312.5">Bacteroidetes_VC2.1_Bac22</text></g>
<g id="b-n115"><circle class="y" cx="751" cy="321" r="2.5"/><text x="751" y="317.5">Gloeobacter</text></g>
<g id="b-n116"><circle class="y" cx="730" cy="337" r="2.5"/><text x="730" y="333.5">uncultured_Saprospiraceae</text></g>
<g id="b-n117"><circle class="y" cx="707" cy="343" r="1.5"/><text x="703" y="340.5">Kallotenue</text></g>
<g id="b-n118"><circle class="y" cx="665" cy="348" r="1.8"/><text x="665" y="345">Bosea</text></g>
<g id="b-n119"><circle class="y" cx="654" cy="363" r="1.8"/><text x="654" y="360">Chlorobaculum</text></g>
<g id="b-n120"><circle class="y" cx="636" cy="330" r="1.8"/><text x="636" y="327">WPS-2</text></g>
<g id="b-n121"><circle class="y" cx="619" cy="334" r="1.8"/><text x="619" y="331">Candidatus_Entotheonella</text></g>
</g>

<!-- ============ (c) FM ============ -->
<g id="panel-c">
<text class="t" x="813" y="33">(c) FM</text>
<g id="c-connectors">
<path class="e" d="M947 36L928 55M902 91L928 99M875 217L883 243M915 213L941 221M1191 86L1199 111M1189 148L1217 152M1190 181L1216 195M1149 203L1172 210M1166 243L1200 246M1166 243L1181 262M1200 246L1181 262M1126 258L1117 284M1184 289L1158 300M1063 317L1089 337M1129 324L1140 337"/>
<path class="f" d="M888 126L914 136M876 157L882 180M943 162L943 184M1004 332L987 350M1062 363L1033 356"/>
<path class="d" d="M1019 48L1105 32 1008 72 1123 49 1009 98 1130 75 1022 120 1132 99 1049 144 1122 121 1052 123 1094 143 1085 126 1076 23 1040 27 1096 65 1040 53 1096 82 1039 94 1108 102 1061 102 1083 98 1051 72 1074 79 1061 56 1086 48 1061 37 1027 68 1019 48"/>
<path class="d" d="M1040 27L1085 126 1076 23 1052 123 1105 32 1049 144 1123 49 1022 120 1130 75 1009 98 1132 99 1008 72 1122 121 1019 48 1094 143 1027 68 1108 102 1040 53 1083 98 1051 72 1096 82 1039 94 1074 79 1061 102 1096 65 1061 56 1086 48 1061 37 1040 27"/>
<path class="d" d="M1019 48L1061 56 1039 94 1085 126 1094 143 1108 102 1130 75 1123 49 1076 23 1061 37 1027 68 1051 72 1061 102 1052 123 1022 120 1009 98 1008 72 1040 53 1074 79 1083 98 1122 121 1132 99 1096 65 1086 48 1105 32 1040 27 1019 48 1096 82 1049 144 1027 68 1083 98 1022 120 1085 126 1051 72 1132 99 1061 37 1108 102 1052 123 1096 65 1008 72 1094 143 1040 53"/>
<path class="d" d="M1008 72L1040 27 1040 53 1027 68 1039 94 1009 98 1052 123 1049 144 1085 126 1122 121 1108 102 1132 99 1123 49 1105 32 1076 23 1086 48 1096 82 1130 75 1096 65 1083 98 1074 79 1051 72 1061 56 1061 37 1040 27M1019 48L1061 102 1076 23 1074 79 1123 49 1061 56 1094 143 1086 48 1009 98 1105 32 1049 144 1096 65 1022 120 1039 94 1052 123 1108 102 1096 82 1085 126 1061 102 1130 75 1040 53 1122 121 1027 68 1132 99 1008 72"/>
<path class="d" d="M1045 186L1033 212 1065 216 1045 186 1047 231 1077 237 1065 216 1047 231 1033 212 1014 223 1030 244 1006 248 1025 268 1030 244 1047 231 1051 252 1077 237 1073 260 1051 252 1052 274 1025 268 1051 252 1030 244 1033 212 1006 248 1014 223 1047 231 1073 260 1052 274 1030 244 1065 216 1051 252 1045 186 1014 223 1025 268 1047 231 1052 274 1077 237 1033 212 1073 260 1006 248 1051 252 1014 223 1065 216"/>
<path class="d" d="M921 261L952 275 918 289 960 297 929 306 955 320 918 289 921 261 960 297 955 320 952 275 929 306 921 261 955 320M918 289L952 275M960 297L918 289M929 306L921 261"/>
</g>
<g id="c-n1"><circle class="y" cx="947" cy="36" r="1.8"/><text x="947" y="33">unclassified_Cyclobacteriaceae</text></g>
<g id="c-n2"><circle class="y" cx="928" cy="55" r="1.8"/><text x="928" y="52">Nocardioides</text></g>
<g id="c-n3"><circle class="y" cx="902" cy="91" r="1.8"/><text x="902" y="88">uncultured_Vicinamibacterales</text></g>
<g id="c-n4"><circle class="y" cx="928" cy="99" r="1.8"/><text x="928" y="96">Bryocella</text></g>
<g id="c-n5"><circle class="y" cx="888" cy="126" r="1.8"/><text x="888" y="123">Lysobacter</text></g>
<g id="c-n6"><circle class="y" cx="914" cy="136" r="1.8"/><text x="914" y="133">Sphingopyxis</text></g>
<g id="c-n7"><circle class="y" cx="876" cy="157" r="1.8"/><text x="876" y="154">BD2-11_terrestrial_group</text></g>
<g id="c-n8"><circle class="y" cx="882" cy="180" r="1.8"/><text x="882" y="177">Pseudomonas</text></g>
<g id="c-n9"><circle class="y" cx="943" cy="162" r="1.5"/><text x="943" y="159.5">Salinarimonas</text></g>
<g id="c-n10"><circle class="y" cx="943" cy="184" r="1.8"/><text x="943" y="181">Candidatus_Solibacter</text></g>
<g id="c-n11"><circle class="y" cx="875" cy="217" r="1.8"/><text x="875" y="214">OM190</text></g>
<g id="c-n12"><circle class="y" cx="883" cy="243" r="1.8"/><text x="883" y="240">mle1-7</text></g>
<g id="c-n13"><circle class="y" cx="915" cy="213" r="1.8"/><text x="915" y="210">Solirubrobacter</text></g>
<g id="c-n14"><circle class="y" cx="941" cy="221" r="1.8"/><text x="941" y="218">Ellin6067</text></g>
<g id="c-n15"><circle class="r" cx="921" cy="261" r="3.5"/><text x="921" y="256.5">Fimbriimonadales</text></g>
<g id="c-n16"><circle class="r" cx="952" cy="275" r="3.5"/><text x="952" y="270.5">Allorhizobium-Neorhizobium-Pararhizobium-Rhizobium</text></g>
<g id="c-n17"><circle class="r" cx="918" cy="289" r="3.5"/><text x="908" y="284.5">unclassified_Sterolibacteriaceae</text></g>
<g id="c-n18"><circle class="r" cx="960" cy="297" r="3.5"/><text x="960" y="292.5">Paracoccus</text></g>
<g id="c-n19"><circle class="r" cx="929" cy="306" r="3.5"/><text x="929" y="301.5">Devosia</text></g>
<g id="c-n20"><circle class="r" cx="955" cy="320" r="3.5"/><text x="955" y="315.5">Mesorhizobium</text></g>
<g id="c-n21"><circle class="y" cx="1004" cy="332" r="1.8"/><text x="1004" y="329">Hydrogenophaga</text></g>
<g id="c-n22"><circle class="y" cx="987" cy="350" r="1.8"/><text x="987" y="347">Hyphomicrobium</text></g>
<g id="c-n23"><circle class="b" cx="1019" cy="48" r="5"/><text x="1012" y="42">Candidatus_Nucleicultrix</text></g>
<g id="c-n24"><circle class="b" cx="1008" cy="72" r="5"/><text x="1002" y="66">Dechloromonas</text></g>
<g id="c-n25"><circle class="b" cx="1027" cy="68" r="5"/><text x="1027" y="62">PLTA13</text></g>
<g id="c-n26"><circle class="b" cx="1009" cy="98" r="5"/><text x="1009" y="92">Candidatus_Vanchaebacteria</text></g>
<g id="c-n27"><circle class="b" cx="1022" cy="120" r="5"/><text x="1016" y="114">unclassified_Gemmatimonadaceae</text></g>
<g id="c-n28"><circle class="b" cx="1040" cy="27" r="5"/><text x="1040" y="21">Candidatus_Kerfeldbacteria</text></g>
<g id="c-n29"><circle class="b" cx="1076" cy="23" r="5"/><text x="1076" y="16">Marmoricola</text></g>
<g id="c-n30"><circle class="b" cx="1105" cy="32" r="5"/><text x="1105" y="26">Anaerolinea</text></g>
<g id="c-n31"><circle class="b" cx="1061" cy="37" r="5"/><text x="1061" y="31">Rhizobacter</text></g>
<g id="c-n32"><circle class="b" cx="1123" cy="49" r="5"/><text x="1123" y="43">Geobacter</text></g>
<g id="c-n33"><circle class="b" cx="1086" cy="48" r="5"/><text x="1086" y="42">Lacunisphaera</text></g>
<g id="c-n34"><circle class="b" cx="1040" cy="53" r="5"/><text x="1040" y="47">Nitrospira</text></g>
<g id="c-n35"><circle class="b" cx="1061" cy="56" r="5"/><text x="1061" y="50">AKYH767</text></g>
<g id="c-n36"><circle class="b" cx="1096" cy="65" r="5"/><text x="1096" y="59">uncultured_Xanthobacteraceae</text></g>
<g id="c-n37"><circle class="b" cx="1051" cy="72" r="5"/><text x="1051" y="66">Steroidobacter</text></g>
<g id="c-n38"><circle class="b" cx="1130" cy="75" r="5"/><text x="1130" y="69">Fluviicola</text></g>
<g id="c-n39"><circle class="b" cx="1074" cy="79" r="5"/><text x="1074" y="73">Ilumatobacter</text></g>
<g id="c-n40"><circle class="b" cx="1096" cy="82" r="5"/><text x="1096" y="76">unclassified_Nitrosomonadaceae</text></g>
<g id="c-n41"><circle class="b" cx="1039" cy="94" r="5"/><text x="1039" y="88">Candidatus_Berkelbacteria</text></g>
<g id="c-n42"><circle class="b" cx="1132" cy="99" r="5"/><text x="1132" y="93">Desulfovibrio</text></g>
<g id="c-n43"><circle class="b" cx="1083" cy="98" r="5"/><text x="1083" y="92">uncultured_Chitinophagaceae</text></g>
<g id="c-n44"><circle class="b" cx="1061" cy="102" r="5"/><text x="1061" y="96">Bdellovibrio</text></g>
<g id="c-n45"><circle class="b" cx="1108" cy="102" r="5"/><text x="1108" y="96">MBNT15</text></g>
<g id="c-n46"><circle class="b" cx="1122" cy="121" r="5"/><text x="1122" y="115">uncultured_Saprospiraceae</text></g>
<g id="c-n47"><circle class="b" cx="1052" cy="123" r="5"/><text x="1052" y="117">unclassified_Desulfuromonadales</text></g>
<g id="c-n48"><circle class="b" cx="1085" cy="126" r="5"/><text x="1085" y="120">uncultured_Anaerolineaceae</text></g>
<g id="c-n49"><circle class="b" cx="1049" cy="144" r="5"/><text x="1040" y="138">Candidatus_Peribacteria</text></g>
<g id="c-n50"><circle class="b" cx="1094" cy="143" r="5"/><text x="1094" y="137">Desulfobacteraceae</text></g>
<g id="c-n51"><circle class="g" cx="1045" cy="186" r="3.5"/><text x="1045" y="181.5">YC-ZSS-LKJ147</text></g>
<g id="c-n52"><circle class="g" cx="1033" cy="212" r="3.5"/><text x="1033" y="207.5">WD2101_soil_group</text></g>
<g id="c-n53"><circle class="g" cx="1065" cy="216" r="3.5"/><text x="1068" y="211.5">uncultured_Peptococcaceae</text></g>
<g id="c-n54"><circle class="g" cx="1047" cy="231" r="3.5"/><text x="1047" y="226.5">Candidatus_Nitrotoga</text></g>
<g id="c-n55"><circle class="g" cx="1077" cy="237" r="3.5"/><text x="1077" y="232.5">Candidatus_Peribacteria</text></g>
<g id="c-n56"><circle class="g" cx="1030" cy="244" r="3.5"/><text x="1030" y="239.5">Caulobacter</text></g>
<g id="c-n57"><circle class="g" cx="1051" cy="252" r="3.5"/><text x="1051" y="247.5">Rhodopirellula</text></g>
<g id="c-n58"><circle class="g" cx="1073" cy="260" r="3.5"/><text x="1075" y="255.5">Hyphomicrobium</text></g>
<g id="c-n59"><circle class="g" cx="1052" cy="274" r="3.5"/><text x="1052" y="269.5">Gaiella</text></g>
<g id="c-n60"><circle class="g" cx="1014" cy="223" r="3.5"/><text x="1010" y="218.5">Bellilinea</text></g>
<g id="c-n61"><circle class="g" cx="1006" cy="248" r="3.5"/><text x="1000" y="243.5">Magnetospirillum</text></g>
<g id="c-n62"><circle class="g" cx="1025" cy="268" r="3.5"/><text x="1025" y="263.5">Haliangium</text></g>
<g id="c-n63"><circle class="y" cx="1191" cy="86" r="1.8"/><text x="1191" y="83">BSV26</text></g>
<g id="c-n64"><circle class="y" cx="1199" cy="111" r="1.8"/><text x="1199" y="108">Rhodoplanes</text></g>
<g id="c-n65"><circle class="y" cx="1189" cy="148" r="1.8"/><text x="1189" y="145">B1-7BS</text></g>
<g id="c-n66"><circle class="y" cx="1217" cy="152" r="1.8"/><text x="1217" y="149">Ohtaekwangia</text></g>
<g id="c-n67"><circle class="y" cx="1190" cy="181" r="1.5"/><text x="1190" y="178.5">Alishewanella</text></g>
<g id="c-n68"><circle class="y" cx="1216" cy="195" r="1.8"/><text x="1216" y="192">uncultured_Xanthobacteraceae</text></g>
<g id="c-n69"><circle class="y" cx="1149" cy="203" r="1.8"/><text x="1149" y="200">nl32</text></g>
<g id="c-n70"><circle class="y" cx="1172" cy="210" r="1.8"/><text x="1172" y="207">Aeromonas</text></g>
<g id="c-n71"><circle class="p" cx="1166" cy="243" r="3"/><text x="1166" y="239">NS9_marine_group</text></g>
<g id="c-n72"><circle class="p" cx="1200" cy="246" r="3"/><text x="1200" y="242">Lacunisphaera</text></g>
<g id="c-n73"><circle class="p" cx="1181" cy="262" r="3"/><text x="1181" y="258">RB41</text></g>
<g id="c-n74"><circle class="c" cx="1126" cy="258" r="2"/><text x="1126" y="255">Nocardioides</text></g>
<g id="c-n75"><circle class="c" cx="1117" cy="284" r="2"/><text x="1117" y="281">AKYH767</text></g>
<g id="c-n76"><circle class="y" cx="1184" cy="289" r="1.8"/><text x="1184" y="286">unclassified_Xanthomonadales</text></g>
<g id="c-n77"><circle class="y" cx="1158" cy="300" r="1.8"/><text x="1158" y="297">Subgroup_17</text></g>
<g id="c-n78"><circle class="y" cx="1063" cy="317" r="1.8"/><text x="1063" y="314">unclassified_Beijerinckiaceae</text></g>
<g id="c-n79"><circle class="y" cx="1089" cy="337" r="1.8"/><text x="1089" y="334">Defluviicoccus</text></g>
<g id="c-n80"><circle class="y" cx="1129" cy="324" r="1.8"/><text x="1129" y="321">unclassified_Alphaproteobacteria</text></g>
<g id="c-n81"><circle class="y" cx="1140" cy="337" r="1.8"/><text x="1140" y="334">SG34_terrestrial_group</text></g>
<g id="c-n82"><circle class="y" cx="1033" cy="356" r="1.8"/><text x="1033" y="353">Luteolibacter</text></g>
<g id="c-n83"><circle class="y" cx="1062" cy="363" r="1.8"/><text x="1062" y="360">CL500-29_marine_group</text></g>
</g>

<!-- ============ (d) RI ============ -->
<g id="panel-d">
<text class="t" x="12" y="410">(d) RI</text>
<g id="d-connectors">
<path class="e" d="M97 439L111 475M73 468L58 483M86 517L90 539M86 517L67 551M90 539L67 551M107 584L106 610M84 601L106 610M40 605L40 628M69 636L88 646M117 659L113 676M255 403L276 412M309 427L326 443M242 448L263 445M294 458L303 478M215 468L208 488M255 485L276 494M349 467L367 483M326 499L342 513M375 523L386 539M366 564L385 579M385 579L361 589M343 626L336 649M360 672L344 685M306 690L324 705"/>
<path class="f" d="M162 500L147 515M119 509L122 537M66 520L86 517M66 520L67 551M66 520L90 539M35 538L35 553M35 553L52 577M63 675L79 695M215 396L225 416M324 537L333 551M382 616L376 637M265 723L276 741M292 724L276 741M233 728L227 745"/>
<path class="d" d="M160 418L186 424 191 443 181 460 151 464 137 449 138 432 160 418 167 438 186 424 138 432 167 438 191 443 151 464 167 438 181 460 137 449 167 438M160 418L191 443M138 432L181 460M137 449L186 424M160 418L151 464M138 432L191 443M186 424L151 464M160 418L137 449M181 460L138 432"/>
<path class="d" d="M154 688L175 690 190 709 180 731 159 737 137 725 132 701 154 688 159 713 175 690 132 701 159 713 190 709 137 725 159 713 180 731 154 688 137 725M132 701L190 709M175 690L159 737M154 688L190 709M132 701L159 737M175 690L137 725M159 713L159 737M132 701L180 731"/>
<path class="d" d="M190 543L292 551 178 570 272 531 179 598 300 571 193 623 299 598 208 639 288 619 227 629 273 635 243 644 266 620 216 609 244 614 229 593 265 604 215 576 264 588 243 571 282 571 228 562 259 566 212 547 272 554 232 538 254 544 214 528 243 522 190 543"/>
<path class="d" d="M214 528L273 635 243 522 208 639 272 531 227 629 292 551 216 609 300 571 193 623 299 598 179 598 288 619 178 570 282 571 190 543 264 588 197 565 265 604 212 547 244 614 254 544 229 593 272 554 215 576 259 566 228 562 243 571 232 538 266 620 214 528"/>
<path class="d" d="M190 543L254 544 197 565 272 554 196 592 259 566 193 623 244 614 178 570 228 562 179 598 229 593 232 538 264 588 212 547 265 604 243 522 243 571 272 531 282 571 292 551 299 598 273 635 288 619 243 644 227 629 208 639 216 609 215 576 196 592 197 565 259 566 300 571 272 531 254 544 243 522 214 528 232 538 190 543"/>
<path class="d" d="M179 598L272 531 193 623 292 551 208 639 243 522 243 644 254 544 299 598 190 543 273 635 212 547 288 619 197 565 266 620 178 570 264 588 214 528 244 614 300 571 216 609 272 554 227 629 282 571 215 576 265 604 228 562 299 598"/>
<path class="f" d="M208 639L243 644 273 635M227 629L243 644M193 623L243 644M243 644L266 620M216 609L243 644"/>
</g>
<g id="d-n1"><circle class="r" cx="160" cy="418" r="3.5"/><text x="160" y="413.5">Cephaloticoccus</text></g>
<g id="d-n2"><circle class="r" cx="186" cy="424" r="3.5"/><text x="186" y="419.5">AKYG587</text></g>
<g id="d-n3"><circle class="r" cx="138" cy="432" r="3.5"/><text x="130" y="427.5">unclassified_Vicinamibacteraceae</text></g>
<g id="d-n4"><circle class="r" cx="167" cy="438" r="3.5"/><text x="167" y="433.5">unclassified_Dongia</text></g>
<g id="d-n5"><circle class="r" cx="191" cy="443" r="3.5"/><text x="191" y="438.5">Ilumatobacter</text></g>
<g id="d-n6"><circle class="r" cx="137" cy="449" r="3.5"/><text x="130" y="444.5">unclassified_Pyrinomonadaceae</text></g>
<g id="d-n7"><circle class="r" cx="181" cy="460" r="3.5"/><text x="181" y="455.5">NS9_marine_group</text></g>
<g id="d-n8"><circle class="r" cx="151" cy="464" r="3.5"/><text x="145" y="459.5">uncultured_Micavibrionales</text></g>
<g id="d-n9"><circle class="y" cx="97" cy="439" r="1.8"/><text x="97" y="436">unclassified_Geobacteraceae</text></g>
<g id="d-n10"><circle class="y" cx="111" cy="475" r="1.8"/><text x="111" y="472">Rhodobacter</text></g>
<g id="d-n11"><circle class="y" cx="73" cy="468" r="1.8"/><text x="73" y="465">uncultured_Cyclobacteriaceae</text></g>
<g id="d-n12"><circle class="y" cx="58" cy="483" r="1.8"/><text x="58" y="480">67-14</text></g>
<g id="d-n13"><circle class="y" cx="162" cy="500" r="1.8"/><text x="162" y="497">Pseudolabrys</text></g>
<g id="d-n14"><circle class="y" cx="147" cy="515" r="1.8"/><text x="147" y="512">uncultured_Desulfobacteraceae</text></g>
<g id="d-n15"><circle class="y" cx="119" cy="509" r="1.8"/><text x="119" y="506">Pseudarthrobacter</text></g>
<g id="d-n16"><circle class="y" cx="122" cy="537" r="1.8"/><text x="122" y="534">Luteimonas</text></g>
<g id="d-n17"><circle class="p" cx="66" cy="520" r="3"/><text x="62" y="516">Roseiarcus</text></g>
<g id="d-n18"><circle class="p" cx="86" cy="517" r="3"/><text x="86" y="513">Gitt-GS-136</text></g>
<g id="d-n19"><circle class="p" cx="90" cy="539" r="3"/><text x="90" y="535">unclassified_Acidobacteria</text></g>
<g id="d-n20"><circle class="p" cx="67" cy="551" r="3"/><text x="60" y="547">uncultured_Beijerinckiaceae</text></g>
<g id="d-n21"><circle class="y" cx="35" cy="538" r="1.5"/><text x="31" y="535.5">Lactobacillus</text></g>
<g id="d-n22"><circle class="y" cx="35" cy="553" r="2.5"/><text x="30" y="549.5">unclassified_Gammaproteobacteria</text></g>
<g id="d-n23"><circle class="y" cx="52" cy="577" r="1.8"/><text x="52" y="574">Devosia</text></g>
<g id="d-n24"><circle class="c" cx="107" cy="584" r="2"/><text x="107" y="581">Arenimonas</text></g>
<g id="d-n25"><circle class="c" cx="84" cy="601" r="2"/><text x="78" y="598">uncultured_Chitinophagaceae</text></g>
<g id="d-n26"><circle class="c" cx="106" cy="610" r="2.5"/><text x="106" y="606.5">unclassified_Opitutaceae</text></g>
<g id="d-n27"><circle class="y" cx="40" cy="605" r="1.8"/><text x="40" y="602">Kallotenue</text></g>
<g id="d-n28"><circle class="y" cx="40" cy="628" r="1.8"/><text x="40" y="625">Verrucomicrobium</text></g>
<g id="d-n29"><circle class="y" cx="69" cy="636" r="1.8"/><text x="69" y="633">Candidatus_Pacebacteria</text></g>
<g id="d-n30"><circle class="y" cx="88" cy="646" r="1.8"/><text x="80" y="643">Allorhizobium-Neorhizobium-Pararhizobium-Rhizobium</text></g>
<g id="d-n31"><circle class="y" cx="117" cy="659" r="1.8"/><text x="117" y="656">Kapabacteriales</text></g>
<g id="d-n32"><circle class="y" cx="113" cy="676" r="1.8"/><text x="113" y="673">Dechloromonas</text></g>
<g id="d-n33"><circle class="y" cx="63" cy="675" r="1.8"/><text x="63" y="672">SG34_terrestrial_group</text></g>
<g id="d-n34"><circle class="y" cx="79" cy="695" r="1.8"/><text x="79" y="692">Longimicrobiaceae</text></g>
<g id="d-n35"><circle class="g" cx="154" cy="688" r="3.5"/><text x="154" y="683.5">Diplosphaera</text></g>
<g id="d-n36"><circle class="g" cx="175" cy="690" r="3.5"/><text x="178" y="685.5">Bellilinea</text></g>
<g id="d-n37"><circle class="g" cx="132" cy="701" r="3.5"/><text x="126" y="696.5">unclassified_Pseudolabrys</text></g>
<g id="d-n38"><circle class="g" cx="190" cy="709" r="3.5"/><text x="190" y="704.5">Bdellovibrionaceae</text></g>
<g id="d-n39"><circle class="g" cx="159" cy="713" r="3.5"/><text x="159" y="708.5">uncultured_Sphingomonadaceae</text></g>
<g id="d-n40"><circle class="g" cx="137" cy="725" r="3.5"/><text x="137" y="720.5">uncultured_Rhizobiaceae</text></g>
<g id="d-n41"><circle class="g" cx="180" cy="731" r="3.5"/><text x="180" y="726.5">unclassified_Acidimicrobiia</text></g>
<g id="d-n42"><circle class="g" cx="159" cy="737" r="3.5"/><text x="159" y="732.5">Pseudomonas</text></g>
<g id="d-n43"><circle class="b" cx="190" cy="543" r="5"/><text x="190" y="537">Anaerolinea</text></g>
<g id="d-n44"><circle class="b" cx="178" cy="570" r="5"/><text x="178" y="564">P3OB-42</text></g>
<g id="d-n45"><circle class="b" cx="197" cy="565" r="5"/><text x="200" y="559">uncultured_Acidobacteriales</text></g>
<g id="d-n46"><circle class="b" cx="179" cy="598" r="5"/><text x="179" y="592">Rhizomicrobium</text></g>
<g id="d-n47"><circle class="b" cx="196" cy="592" r="5"/><text x="196" y="586">SC-I-84</text></g>
<g id="d-n48"><circle class="b" cx="193" cy="623" r="5"/><text x="185" y="617">Candidatus_Kerfeldbacteria</text></g>
<g id="d-n49"><circle class="b" cx="243" cy="522" r="5"/><text x="243" y="516">uncultured_Acetobacteraceae</text></g>
<g id="d-n50"><circle class="b" cx="214" cy="528" r="5"/><text x="214" y="522">Sphingobacteriaceae</text></g>
<g id="d-n51"><circle class="b" cx="272" cy="531" r="5"/><text x="272" y="525">Latescibacterota</text></g>
<g id="d-n52"><circle class="b" cx="232" cy="538" r="5"/><text x="232" y="532">Flavobacterium</text></g>
<g id="d-n53"><circle class="b" cx="212" cy="547" r="5"/><text x="212" y="541">WD2101_soil_group</text></g>
<g id="d-n54"><circle class="b" cx="254" cy="544" r="5"/><text x="254" y="538">Nitrosomonadaceae</text></g>
<g id="d-n55"><circle class="b" cx="292" cy="551" r="5"/><text x="292" y="545">S-BQ2-57_soil_group</text></g>
<g id="d-n56"><circle class="b" cx="272" cy="554" r="5"/><text x="272" y="548">Opitutus</text></g>
<g id="d-n57"><circle class="b" cx="228" cy="562" r="5"/><text x="228" y="556">PLTA13</text></g>
<g id="d-n58"><circle class="b" cx="259" cy="566" r="5"/><text x="259" y="560">MBNT15</text></g>
<g id="d-n59"><circle class="b" cx="243" cy="571" r="5"/><text x="243" y="565">uncultured_Gemmataceae</text></g>
<g id="d-n60"><circle class="b" cx="282" cy="571" r="5"/><text x="282" y="565">Rhodanobacter</text></g>
<g id="d-n61"><circle class="b" cx="300" cy="571" r="5"/><text x="304" y="579.5">Candidatus_Udaeobacter</text></g>
<g id="d-n62"><circle class="b" cx="215" cy="576" r="5"/><text x="215" y="570">Gemmatimonas</text></g>
<g id="d-n63"><circle class="b" cx="264" cy="588" r="5"/><text x="264" y="582">uncultured_Anaerolineaceae</text></g>
<g id="d-n64"><circle class="b" cx="229" cy="593" r="5"/><text x="229" y="587">uncultured_Nitrosomonadaceae</text></g>
<g id="d-n65"><circle class="b" cx="265" cy="604" r="5"/><text x="265" y="598">Haliangium</text></g>
<g id="d-n66"><circle class="b" cx="299" cy="598" r="5"/><text x="299" y="592">Arthronema_SAG_12.89</text></g>
<g id="d-n67"><circle class="b" cx="216" cy="609" r="5"/><text x="216" y="603">Pedomicrobium</text></g>
<g id="d-n68"><circle class="b" cx="244" cy="614" r="5"/><text x="244" y="608">Nitrospira</text></g>
<g id="d-n69"><circle class="b" cx="288" cy="619" r="5"/><text x="288" y="613">Ellin6067</text></g>
<g id="d-n70"><circle class="b" cx="266" cy="620" r="5"/><text x="266" y="614">Lineage_IV</text></g>
<g id="d-n71"><circle class="b" cx="227" cy="629" r="5"/><text x="227" y="623">Bryobacter</text></g>
<g id="d-n72"><circle class="b" cx="273" cy="635" r="5"/><text x="273" y="629">unclassified_Gemmatimonadaceae</text></g>
<g id="d-n73"><circle class="b" cx="208" cy="639" r="5"/><text x="208" y="633">Dongia</text></g>
<g id="d-n74"><circle class="b" cx="243" cy="644" r="5"/><text x="243" y="638">LWQ8</text></g>
<g id="d-n75"><circle class="y" cx="215" cy="396" r="1.5"/><text x="215" y="393.5">uncultured_Anaerolineaceae</text></g>
<g id="d-n76"><circle class="y" cx="225" cy="416" r="1.8"/><text x="225" y="413">BRH-11_terrestrial_group</text></g>
<g id="d-n77"><circle class="y" cx="255" cy="403" r="1.8"/><text x="255" y="400">Vulgatibacter</text></g>
<g id="d-n78"><circle class="y" cx="276" cy="412" r="1.8"/><text x="276" y="409">Lactobacillus</text></g>
<g id="d-n79"><circle class="y" cx="309" cy="427" r="1.8"/><text x="309" y="424">uncultured_Opitutaceae</text></g>
<g id="d-n80"><circle class="y" cx="326" cy="443" r="1.8"/><text x="326" y="440">uncultured_Rhodospirillaceae</text></g>
<g id="d-n81"><circle class="y" cx="242" cy="448" r="1.8"/><text x="242" y="445">Ellin6055</text></g>
<g id="d-n82"><circle class="y" cx="263" cy="445" r="1.8"/><text x="263" y="442">Sediminibacterium</text></g>
<g id="d-n83"><circle class="y" cx="294" cy="458" r="1.8"/><text x="294" y="455">TRA3-20</text></g>
<g id="d-n84"><circle class="y" cx="303" cy="478" r="1.8"/><text x="303" y="475">uncultured_Cellvibrionaceae</text></g>
<g id="d-n85"><circle class="y" cx="215" cy="468" r="1.8"/><text x="215" y="465">BSV26</text></g>
<g id="d-n86"><circle class="y" cx="208" cy="488" r="1.8"/><text x="208" y="485">Ardenticatena</text></g>
<g id="d-n87"><circle class="y" cx="255" cy="485" r="1.8"/><text x="255" y="482">uncultured_Burkholderiales</text></g>
<g id="d-n88"><circle class="y" cx="276" cy="494" r="1.8"/><text x="276" y="491">unclassified_Cyclobacteriaceae</text></g>
<g id="d-n89"><circle class="y" cx="349" cy="467" r="1.8"/><text x="349" y="464">PLTA13</text></g>
<g id="d-n90"><circle class="y" cx="367" cy="483" r="1.8"/><text x="367" y="480">Defluviicoccus</text></g>
<g id="d-n91"><circle class="y" cx="326" cy="499" r="1.8"/><text x="326" y="496">Aquisphaera</text></g>
<g id="d-n92"><circle class="y" cx="342" cy="513" r="1.8"/><text x="342" y="510">OM190</text></g>
<g id="d-n93"><circle class="y" cx="375" cy="523" r="1.8"/><text x="375" y="520">Pseudolabrys</text></g>
<g id="d-n94"><circle class="y" cx="386" cy="539" r="1.8"/><text x="386" y="536">Rubribacter</text></g>
<g id="d-n95"><circle class="y" cx="324" cy="537" r="1.8"/><text x="324" y="534">Ideonella</text></g>
<g id="d-n96"><circle class="y" cx="333" cy="551" r="1.8"/><text x="333" y="548">Geobacter</text></g>
<g id="d-n97"><circle class="y" cx="366" cy="564" r="1.8"/><text x="366" y="561">uncultured_Peptococcaceae</text></g>
<g id="d-n98"><circle class="y" cx="385" cy="579" r="3"/><text x="385" y="575">Chitinimonas</text></g>
<g id="d-n99"><circle class="y" cx="361" cy="589" r="1.8"/><text x="361" y="586">AKYH767</text></g>
<g id="d-n100"><circle class="y" cx="382" cy="616" r="1.8"/><text x="382" y="613">Gracilibacter</text></g>
<g id="d-n101"><circle class="y" cx="376" cy="637" r="1.8"/><text x="376" y="634">Ohtaekwangia</text></g>
<g id="d-n102"><circle class="y" cx="343" cy="626" r="1.8"/><text x="343" y="623">Desulfuromonadales</text></g>
<g id="d-n103"><circle class="y" cx="336" cy="649" r="1.8"/><text x="336" y="646">Candidatus_Saganbacteria</text></g>
<g id="d-n104"><circle class="y" cx="360" cy="672" r="1.8"/><text x="360" y="669">Fimbriimonadales</text></g>
<g id="d-n105"><circle class="y" cx="344" cy="685" r="1.8"/><text x="344" y="682">unclassified_Rhizobiales</text></g>
<g id="d-n106"><circle class="y" cx="306" cy="690" r="1.8"/><text x="306" y="687">Sphingopyxis</text></g>
<g id="d-n107"><circle class="y" cx="324" cy="705" r="1.8"/><text x="324" y="702">Magnetospirillaceae</text></g>
<g id="d-n108"><circle class="y" cx="265" cy="723" r="1.8"/><text x="265" y="720">Pedosphaeraceae</text></g>
<g id="d-n109"><circle class="y" cx="292" cy="724" r="1.8"/><text x="292" y="721">Opitutus</text></g>
<g id="d-n110"><circle class="y" cx="276" cy="741" r="2.5"/><text x="276" y="737.5">uncultured_Xanthobacteraceae</text></g>
<g id="d-n111"><circle class="y" cx="233" cy="728" r="1.8"/><text x="233" y="725">uncultured_Methylophilaceae</text></g>
<g id="d-n112"><circle class="y" cx="227" cy="745" r="1.8"/><text x="227" y="742">Fimbriimonadaceae</text></g>
</g>

<!-- ============ (e) BC-FM ============ -->
<g id="panel-e">
<text class="t" x="442" y="410">(e) BC−FM</text>
<g id="e-connectors">
<path class="e" d="M565 419L561 435M603 454L624 438M480 599L474 625M525 619L508 640M565 634L584 651M565 634L555 659M584 651L555 659M499 678L522 688M570 703L547 717M584 737L609 743M610 400L639 402M678 410L703 417M714 459L730 479M618 491L641 505M689 498L708 517M758 580L773 602M684 713L703 735M610 690L651 700"/>
<path class="f" d="M527 447L505 463M469 528L466 557M744 433L764 452M674 453L654 467M805 619L819 595M769 644L792 660M747 672L770 681M724 697L735 715M647 732L654 748"/>
<path class="d" d="M542 507L573 513 585 536 577 557 554 567 529 560 519 542 523 524 542 507 545 532 573 513 565 542 523 524 545 532 585 536 529 560 545 532 577 557 519 542 565 542 554 567 545 532 554 567M542 507L565 542M523 524L577 557M519 542L573 513M529 560L565 542M542 507L519 542M585 536L554 567"/>
<path class="d" d="M672 537L708 555 719 582 708 608 693 628 665 633 641 622 625 598 623 569 642 546 672 537 681 570 687 591 666 605 648 586 651 564 642 546 623 569 651 564 681 570 708 555 687 591 708 608 666 605 641 622 648 586 625 598 651 564 672 537 687 591 693 628 666 605 665 633 708 608 719 582 687 591 681 570 666 605 651 564 641 622 623 569 648 586 642 546"/>
<path class="d" d="M672 537L666 605 642 546 687 591 623 569 719 582 625 598 708 555 641 622 681 570 665 633 648 586 693 628 651 564 708 608 672 537 665 633 708 555 648 586 681 570 625 598 687 591 641 622 642 546 693 628 623 569 708 608 651 564 719 582 666 605 672 537 648 586 708 555 693 628 625 598 665 633 681 570 708 608 641 622 687 591 651 564 666 605 623 569"/>
<path class="d" d="M773 504L803 510 804 531 777 547 757 527 773 504 784 522 803 510 757 527 784 522 804 531 773 504 777 547 784 522M757 527L804 531M803 510L777 547"/>
</g>
<g id="e-n1"><circle class="y" cx="565" cy="419" r="1.8"/><text x="565" y="416">Pontibacter</text></g>
<g id="e-n2"><circle class="y" cx="561" cy="435" r="1.8"/><text x="561" y="432">unclassified_Acidobacteria</text></g>
<g id="e-n3"><circle class="y" cx="527" cy="447" r="1.8"/><text x="527" y="444">uncultured_Anaerolineaceae</text></g>
<g id="e-n4"><circle class="y" cx="505" cy="463" r="1.8"/><text x="505" y="460">Pedosphaeraceae</text></g>
<g id="e-n5"><circle class="y" cx="603" cy="454" r="1.8"/><text x="596" y="451">Phenylobacterium</text></g>
<g id="e-n6"><circle class="y" cx="624" cy="438" r="1.8"/><text x="624" y="435">uncultured_Frankiales</text></g>
<g id="e-n7"><circle class="g" cx="542" cy="507" r="4.5"/><text x="542" y="501.5">Anaerolinea</text></g>
<g id="e-n8"><circle class="g" cx="573" cy="513" r="4.5"/><text x="578" y="507.5">unclassified_Opitutales</text></g>
<g id="e-n9"><circle class="g" cx="523" cy="524" r="4.5"/><text x="515" y="518.5">Urania-1B-19_marine_sediment_group</text></g>
<g id="e-n10"><circle class="g" cx="545" cy="532" r="4.5"/><text x="545" y="526.5">Nitrosococcus</text></g>
<g id="e-n11"><circle class="g" cx="585" cy="536" r="4.5"/><text x="585" y="530.5">Paludibaculum</text></g>
<g id="e-n12"><circle class="g" cx="565" cy="542" r="4.5"/><text x="565" y="536.5">Ammoniphilus</text></g>
<g id="e-n13"><circle class="g" cx="519" cy="542" r="4.5"/><text x="514" y="536.5">Flavobacterium</text></g>
<g id="e-n14"><circle class="g" cx="577" cy="557" r="4.5"/><text x="580" y="551.5">unclassified_Cellvibrionaceae</text></g>
<g id="e-n15"><circle class="g" cx="529" cy="560" r="4.5"/><text x="525" y="554.5">Cephaloticoccus</text></g>
<g id="e-n16"><circle class="g" cx="554" cy="567" r="4.5"/><text x="554" y="561.5">Zoogloea</text></g>
<g id="e-n17"><circle class="y" cx="469" cy="528" r="1.8"/><text x="469" y="525">Anaeromyxobacter</text></g>
<g id="e-n18"><circle class="y" cx="466" cy="557" r="1.8"/><text x="466" y="554">uncultured_Xanthomonadales</text></g>
<g id="e-n19"><circle class="c" cx="480" cy="599" r="2"/><text x="480" y="596">uncultured_Gaiellaceae</text></g>
<g id="e-n20"><circle class="c" cx="474" cy="625" r="2"/><text x="474" y="622">TRA3-20</text></g>
<g id="e-n21"><circle class="y" cx="525" cy="619" r="1.8"/><text x="525" y="616">uncultured_Xanthobacteraceae</text></g>
<g id="e-n22"><circle class="y" cx="508" cy="640" r="1.8"/><text x="508" y="637">Rhodobacter</text></g>
<g id="e-n23"><circle class="p" cx="565" cy="634" r="3"/><text x="565" y="630">Desulfobacillus</text></g>
<g id="e-n24"><circle class="p" cx="584" cy="651" r="3"/><text x="584" y="647">LEU-11-161</text></g>
<g id="e-n25"><circle class="p" cx="555" cy="659" r="3"/><text x="545" y="655">Candidatus_Pacebacteria</text></g>
<g id="e-n26"><circle class="y" cx="499" cy="678" r="1.8"/><text x="499" y="675">bacteriap25</text></g>
<g id="e-n27"><circle class="y" cx="522" cy="688" r="1.8"/><text x="522" y="685">Sphingopyxis</text></g>
<g id="e-n28"><circle class="y" cx="570" cy="703" r="1.8"/><text x="570" y="700">uncultured_Rhodospirillaceae</text></g>
<g id="e-n29"><circle class="y" cx="547" cy="717" r="1.8"/><text x="547" y="714">Dongia</text></g>
<g id="e-n30"><circle class="y" cx="584" cy="737" r="1.8"/><text x="584" y="734">Arthronema_SAG_12.89</text></g>
<g id="e-n31"><circle class="y" cx="609" cy="743" r="1.8"/><text x="609" y="740">WPS-2</text></g>
<g id="e-n32"><circle class="y" cx="610" cy="400" r="1.5"/><text x="600" y="397.5">SG34_terrestrial_group</text></g>
<g id="e-n33"><circle class="y" cx="639" cy="402" r="1.8"/><text x="639" y="399">BSV26</text></g>
<g id="e-n34"><circle class="y" cx="678" cy="410" r="1.8"/><text x="678" y="407">uncultured_Rhodospirillales</text></g>
<g id="e-n35"><circle class="y" cx="703" cy="417" r="1.8"/><text x="703" y="414">TCP026</text></g>
<g id="e-n36"><circle class="y" cx="744" cy="433" r="1.8"/><text x="744" y="430">Inhella</text></g>
<g id="e-n37"><circle class="y" cx="764" cy="452" r="1.8"/><text x="764" y="449">SM2D12</text></g>
<g id="e-n38"><circle class="y" cx="674" cy="453" r="1.8"/><text x="674" y="450">Flavisolibacter</text></g>
<g id="e-n39"><circle class="y" cx="654" cy="467" r="1.8"/><text x="654" y="464">Latescibacterota</text></g>
<g id="e-n40"><circle class="y" cx="714" cy="459" r="1.8"/><text x="714" y="456">unclassified_Microbacteriaceae</text></g>
<g id="e-n41"><circle class="y" cx="730" cy="479" r="1.8"/><text x="730" y="476">Chloroplast</text></g>
<g id="e-n42"><circle class="y" cx="618" cy="491" r="1.8"/><text x="618" y="488">Solirubrobacter</text></g>
<g id="e-n43"><circle class="y" cx="641" cy="505" r="1.8"/><text x="641" y="502">unclassified_Blastocatellaceae</text></g>
<g id="e-n44"><circle class="y" cx="689" cy="498" r="1.8"/><text x="689" y="495">unclassified_Cellulomonadaceae</text></g>
<g id="e-n45"><circle class="y" cx="708" cy="517" r="1.8"/><text x="708" y="514">Pirellula</text></g>
<g id="e-n46"><circle class="b" cx="672" cy="537" r="5"/><text x="672" y="531">Sulfuritalea</text></g>
<g id="e-n47"><circle class="b" cx="642" cy="546" r="5"/><text x="642" y="540">YC-ZSS-LKJ147</text></g>
<g id="e-n48"><circle class="b" cx="708" cy="555" r="5"/><text x="712" y="549">uncultured_Acidobacteriales</text></g>
<g id="e-n49"><circle class="b" cx="651" cy="564" r="5"/><text x="651" y="558">uncultured_Pedosphaeraceae</text></g>
<g id="e-n50"><circle class="b" cx="681" cy="570" r="5"/><text x="681" y="564">Lysobacter</text></g>
<g id="e-n51"><circle class="b" cx="623" cy="569" r="5"/><text x="623" y="563">Bosea</text></g>
<g id="e-n52"><circle class="b" cx="719" cy="582" r="5"/><text x="722" y="576">uncultured_Vicinamibacteraceae</text></g>
<g id="e-n53"><circle class="b" cx="648" cy="586" r="5"/><text x="648" y="580">WD2101_soil_group</text></g>
<g id="e-n54"><circle class="b" cx="687" cy="591" r="5"/><text x="687" y="585">unclassified_Pseudolabrys</text></g>
<g id="e-n55"><circle class="b" cx="625" cy="598" r="5"/><text x="625" y="592">RB41</text></g>
<g id="e-n56"><circle class="b" cx="666" cy="605" r="5"/><text x="666" y="599">NS9_marine_group</text></g>
<g id="e-n57"><circle class="b" cx="708" cy="608" r="5"/><text x="708" y="602">Anaerobacter</text></g>
<g id="e-n58"><circle class="b" cx="641" cy="622" r="5"/><text x="641" y="616">Novosphingobium</text></g>
<g id="e-n59"><circle class="b" cx="693" cy="628" r="5"/><text x="693" y="622">unclassified_Micrococcales</text></g>
<g id="e-n60"><circle class="b" cx="665" cy="633" r="5"/><text x="665" y="627">Rhizomicrobium</text></g>
<g id="e-n61"><circle class="r" cx="773" cy="504" r="4"/><text x="770" y="499">Allorhizobium-Neorhizobium-Pararhizobium-Rhizobium</text></g>
<g id="e-n62"><circle class="r" cx="803" cy="510" r="4"/><text x="803" y="505">Belliella</text></g>
<g id="e-n63"><circle class="r" cx="784" cy="522" r="4"/><text x="784" y="517">Steroidobacter</text></g>
<g id="e-n64"><circle class="r" cx="757" cy="527" r="4"/><text x="752" y="522">Novosphingobium</text></g>
<g id="e-n65"><circle class="r" cx="804" cy="531" r="4"/><text x="804" y="526">DEV008</text></g>
<g id="e-n66"><circle class="r" cx="777" cy="547" r="4"/><text x="777" y="542">Candidatus_Yanofskybacteria</text></g>
<g id="e-n67"><circle class="y" cx="758" cy="580" r="1.8"/><text x="758" y="577">Thauera</text></g>
<g id="e-n68"><circle class="y" cx="773" cy="602" r="1.8"/><text x="773" y="599">unclassified_Bacillaceae</text></g>
<g id="e-n69"><circle class="y" cx="805" cy="619" r="1.8"/><text x="805" y="616">Kallotenue</text></g>
<g id="e-n70"><circle class="y" cx="819" cy="595" r="1.8"/><text x="819" y="592">Aquabacterium</text></g>
<g id="e-n71"><circle class="y" cx="769" cy="644" r="1.8"/><text x="769" y="641">uncultured_Gemmatimonadaceae</text></g>
<g id="e-n72"><circle class="y" cx="792" cy="660" r="1.8"/><text x="792" y="657">CCD24</text></g>
<g id="e-n73"><circle class="y" cx="747" cy="672" r="1.8"/><text x="747" y="669">Chelatococcus</text></g>
<g id="e-n74"><circle class="y" cx="770" cy="681" r="1.8"/><text x="770" y="678">unclassified_Geobacteraceae</text></g>
<g id="e-n75"><circle class="y" cx="610" cy="690" r="1.5"/><text x="610" y="687.5">Sphaerobacter</text></g>
<g id="e-n76"><circle class="y" cx="651" cy="700" r="1.8"/><text x="651" y="697">unclassified_Sinobacteraceae</text></g>
<g id="e-n77"><circle class="y" cx="724" cy="697" r="1.8"/><text x="724" y="694">uncultured_Alphaproteobacteria</text></g>
<g id="e-n78"><circle class="y" cx="735" cy="715" r="1.8"/><text x="735" y="712">Sphingomonas</text></g>
<g id="e-n79"><circle class="y" cx="684" cy="713" r="1.8"/><text x="684" y="710">uncultured_Caldilineaceae</text></g>
<g id="e-n80"><circle class="y" cx="703" cy="735" r="1.8"/><text x="703" y="732">Marmoricola</text></g>
<g id="e-n81"><circle class="y" cx="647" cy="732" r="1.8"/><text x="647" y="729">unclassified_Micrococcaceae</text></g>
<g id="e-n82"><circle class="y" cx="654" cy="748" r="1.8"/><text x="654" y="745">BSV26</text></g>
</g>

<!-- ============ (f) BC-RI ============ -->
<g id="panel-f">
<text class="t" x="812" y="410">(f) BC−RI</text>
<g id="f-connectors">
<path class="e" d="M971 427L992 415M1099 403L1119 415M1166 428L1144 441M1202 471L1187 492M1224 502L1224 523M1107 528L1098 550M1163 522L1141 535M1238 562L1232 583M1232 620L1227 645M1031 597L1053 606M905 652L931 658M905 652L917 678M931 658L917 678M993 644L973 659M1002 689L999 713M1002 689L1025 704M999 713L1025 704M1198 693L1177 710M1112 718L1136 727M1112 718L1115 742M1136 727L1115 742M1059 657L1039 668M1059 657L1064 684"/>
<path class="f" d="M937 452L960 461M1020 403L1057 396M1144 441L1168 452M1166 428L1168 452M1126 474L1141 492M1056 549L1062 574M1182 549L1204 560M956 695L958 717M1070 729L1068 745M1035 642L1039 668"/>
<path class="d" d="M939 501L956 601 898 518 995 565 925 518 982 587 975 509 924 597 956 521 898 580 921 541 996 537 945 541 889 547 973 539 923 566 960 560 950 583 939 501 975 509 996 537 995 565 982 587 956 601 924 597 898 580 889 547 898 518 939 501 925 518 956 521 973 539 960 560 945 541 921 541 923 566 950 583 982 587 996 537 975 509 956 521 945 541 923 566 924 597 950 583 956 601 960 560 995 565 973 539 925 518 921 541 889 547 898 580 923 566 898 518 921 541 939 501"/>
<path class="d" d="M898 518L945 541 975 509 960 560 889 547 950 583 996 537 924 597 973 539 956 601 925 518 995 565 939 501 898 580 956 521 923 566 975 509 921 541 982 587 898 518 960 560 924 597 996 537 925 518 898 580 995 565 921 541 956 601 889 547 939 501 982 587 923 566 995 565"/>
<path class="d" d="M1036 434L1064 432 1084 450 1087 469 1071 492 1041 492 1020 473 1022 451 1036 434 1049 452 1064 432 1057 477 1036 434 1087 469 1049 452 1084 450 1057 477 1041 492 1049 452 1020 473 1057 477 1071 492 1049 452 1022 451 1064 432 1087 469 1057 477 1022 451 1041 492M1084 450L1071 492M1020 473L1071 492M1036 434L1041 492"/>
<path class="d" d="M1120 594L1146 588 1168 597 1177 619 1174 638 1163 656 1137 659 1115 650 1102 632 1105 611 1120 594 1143 613 1146 588 1126 628 1168 597 1150 636 1105 611 1143 613 1177 619 1150 636 1137 659 1126 628 1102 632 1143 613 1163 656 1126 628 1115 650 1150 636 1174 638 1143 613M1120 594L1102 632M1105 611L1115 650M1146 588L1177 619M1168 597L1174 638M1126 628L1174 638M1120 594L1150 636M1137 659L1163 656M1105 611L1126 628"/>
</g>
<g id="f-n1"><circle class="y" cx="971" cy="427" r="1.8"/><text x="971" y="424">SAR202_clade</text></g>
<g id="f-n2"><circle class="y" cx="992" cy="415" r="1.8"/><text x="992" y="412">UKL8</text></g>
<g id="f-n3"><circle class="y" cx="937" cy="452" r="1.5"/><text x="933" y="449.5">Candidatus_Chloroploca</text></g>
<g id="f-n4"><circle class="y" cx="960" cy="461" r="1.8"/><text x="960" y="458">uncultured_Oligoflexaceae</text></g>
<g id="f-n5"><circle class="b" cx="939" cy="501" r="4.5"/><text x="939" y="495.5">Obscuribacteraceae</text></g>
<g id="f-n6"><circle class="b" cx="898" cy="518" r="4.5"/><text x="898" y="512.5">Leptospirillum</text></g>
<g id="f-n7"><circle class="b" cx="925" cy="518" r="4.5"/><text x="925" y="512.5">OLB12</text></g>
<g id="f-n8"><circle class="b" cx="975" cy="509" r="4.5"/><text x="975" y="503.5">Cytophaga</text></g>
<g id="f-n9"><circle class="b" cx="956" cy="521" r="4.5"/><text x="956" y="515.5">MBNT15</text></g>
<g id="f-n10"><circle class="b" cx="921" cy="541" r="4.5"/><text x="921" y="535.5">Haliangium</text></g>
<g id="f-n11"><circle class="b" cx="945" cy="541" r="4.5"/><text x="945" y="535.5">Nitrolancea</text></g>
<g id="f-n12"><circle class="b" cx="973" cy="539" r="4.5"/><text x="973" y="533.5">Sphingobacteriaceae</text></g>
<g id="f-n13"><circle class="b" cx="996" cy="537" r="4.5"/><text x="996" y="531.5">SM2D12</text></g>
<g id="f-n14"><circle class="b" cx="889" cy="547" r="4.5"/><text x="880" y="541.5">Candidatus_Vanchaebacteria</text></g>
<g id="f-n15"><circle class="b" cx="960" cy="560" r="4.5"/><text x="960" y="554.5">uncultured_Rhodocyclaceae</text></g>
<g id="f-n16"><circle class="b" cx="923" cy="566" r="4.5"/><text x="923" y="560.5">P3OB-42</text></g>
<g id="f-n17"><circle class="b" cx="995" cy="565" r="4.5"/><text x="995" y="559.5">Candidatus_Saganbacteria</text></g>
<g id="f-n18"><circle class="b" cx="898" cy="580" r="4.5"/><text x="898" y="574.5">Diplosphaera</text></g>
<g id="f-n19"><circle class="b" cx="950" cy="583" r="4.5"/><text x="950" y="577.5">unclassified_Acidobacteria</text></g>
<g id="f-n20"><circle class="b" cx="982" cy="587" r="4.5"/><text x="982" y="581.5">Paenibacillaceae</text></g>
<g id="f-n21"><circle class="b" cx="924" cy="597" r="4.5"/><text x="924" y="591.5">Defluviicoccus</text></g>
<g id="f-n22"><circle class="b" cx="956" cy="601" r="4.5"/><text x="956" y="595.5">Dechloromonas</text></g>
<g id="f-n23"><circle class="r" cx="1022" cy="451" r="4"/><text x="1012" y="446">Latescibacteria</text></g>
<g id="f-n24"><circle class="r" cx="1020" cy="473" r="4"/><text x="1008" y="468">uncultured_Thiohalorhabdaceae</text></g>
<g id="f-n25"><circle class="r" cx="1036" cy="434" r="4"/><text x="1036" y="429">Aquisphaera</text></g>
<g id="f-n26"><circle class="r" cx="1064" cy="432" r="4"/><text x="1064" y="427">ml32</text></g>
<g id="f-n27"><circle class="r" cx="1049" cy="452" r="4"/><text x="1049" y="447">Nitrosospira</text></g>
<g id="f-n28"><circle class="r" cx="1084" cy="450" r="4"/><text x="1084" y="445">uncultured_Steroidobacteraceae</text></g>
<g id="f-n29"><circle class="r" cx="1087" cy="469" r="4"/><text x="1092" y="464">Urania-1B-19_marine_sediment_group</text></g>
<g id="f-n30"><circle class="r" cx="1057" cy="477" r="4"/><text x="1057" y="472">S-BQ2-57_soil_group</text></g>
<g id="f-n31"><circle class="r" cx="1041" cy="492" r="4"/><text x="1041" y="487">Nitrosomonas</text></g>
<g id="f-n32"><circle class="r" cx="1071" cy="492" r="4"/><text x="1071" y="487">NS9_marine_group</text></g>
<g id="f-n33"><circle class="y" cx="1020" cy="403" r="1.5"/><text x="1015" y="400.5">Roseiarcus</text></g>
<g id="f-n34"><circle class="y" cx="1057" cy="396" r="1.8"/><text x="1057" y="393">Novosphingobium</text></g>
<g id="f-n35"><circle class="y" cx="1099" cy="403" r="1.8"/><text x="1099" y="400">Opitutus</text></g>
<g id="f-n36"><circle class="y" cx="1119" cy="415" r="1.8"/><text x="1119" y="412">uncultured_Beijerinckiaceae</text></g>
<g id="f-n37"><circle class="y" cx="1166" cy="428" r="2.5"/><text x="1166" y="424.5">Lineage_IV</text></g>
<g id="f-n38"><circle class="y" cx="1144" cy="441" r="2.5"/><text x="1144" y="437.5">BSV26</text></g>
<g id="f-n39"><circle class="y" cx="1168" cy="452" r="2.5"/><text x="1168" y="448.5">RB41</text></g>
<g id="f-n40"><circle class="y" cx="1126" cy="474" r="1.8"/><text x="1126" y="471">Anaerolinea</text></g>
<g id="f-n41"><circle class="y" cx="1141" cy="492" r="1.8"/><text x="1141" y="489">Pedomicrobium</text></g>
<g id="f-n42"><circle class="y" cx="1202" cy="471" r="1.8"/><text x="1202" y="468">Vulgatibacter</text></g>
<g id="f-n43"><circle class="y" cx="1187" cy="492" r="1.8"/><text x="1187" y="489">Candidatus_Berkelbacteria</text></g>
<g id="f-n44"><circle class="y" cx="1224" cy="502" r="1.8"/><text x="1224" y="499">Variibacter</text></g>
<g id="f-n45"><circle class="y" cx="1224" cy="523" r="1.8"/><text x="1224" y="520">Subgroup_17</text></g>
<g id="f-n46"><circle class="y" cx="1107" cy="528" r="1.8"/><text x="1107" y="525">mle1-27</text></g>
<g id="f-n47"><circle class="y" cx="1098" cy="550" r="1.8"/><text x="1098" y="547">unclassified_Euzebyales</text></g>
<g id="f-n48"><circle class="y" cx="1163" cy="522" r="1.8"/><text x="1163" y="519">WPS-2</text></g>
<g id="f-n49"><circle class="y" cx="1141" cy="535" r="1.8"/><text x="1141" y="532">Rhodopirellula</text></g>
<g id="f-n50"><circle class="y" cx="1056" cy="549" r="1.8"/><text x="1056" y="546">AKIW781</text></g>
<g id="f-n51"><circle class="y" cx="1062" cy="574" r="1.8"/><text x="1062" y="571">YC-ZSS-LKJ147</text></g>
<g id="f-n52"><circle class="y" cx="1182" cy="549" r="1.5"/><text x="1182" y="546.5">uncultured_Frankiales</text></g>
<g id="f-n53"><circle class="y" cx="1204" cy="560" r="1.8"/><text x="1204" y="557">Pirellula</text></g>
<g id="f-n54"><circle class="y" cx="1238" cy="562" r="1.5"/><text x="1232" y="559.5">Dongia</text></g>
<g id="f-n55"><circle class="y" cx="1232" cy="583" r="1.8"/><text x="1222" y="580">BD2-11_terrestrial_group</text></g>
<g id="f-n56"><circle class="y" cx="1232" cy="620" r="1.8"/><text x="1232" y="617">SBR1031</text></g>
<g id="f-n57"><circle class="y" cx="1227" cy="645" r="1.8"/><text x="1227" y="642">Dyella</text></g>
<g id="f-n58"><circle class="y" cx="1031" cy="597" r="1.5"/><text x="1028" y="594.5">Pontibacter</text></g>
<g id="f-n59"><circle class="y" cx="1053" cy="606" r="1.8"/><text x="1053" y="603">Thiobacillus</text></g>
<g id="f-n60"><circle class="g" cx="1146" cy="588" r="4.5"/><text x="1146" y="582.5">Luteimonas</text></g>
<g id="f-n61"><circle class="g" cx="1120" cy="594" r="4.5"/><text x="1120" y="588.5">Fimbriimonadales</text></g>
<g id="f-n62"><circle class="g" cx="1168" cy="597" r="4.5"/><text x="1172" y="591.5">MWH-CFBk5</text></g>
<g id="f-n63"><circle class="g" cx="1105" cy="611" r="4.5"/><text x="1102" y="605.5">Paracoccus</text></g>
<g id="f-n64"><circle class="g" cx="1143" cy="613" r="4.5"/><text x="1143" y="607.5">unclassified_Acidobacteriales</text></g>
<g id="f-n65"><circle class="g" cx="1177" cy="619" r="4.5"/><text x="1180" y="613.5">Rhizobacter</text></g>
<g id="f-n66"><circle class="g" cx="1102" cy="632" r="4.5"/><text x="1100" y="626.5">Dongia</text></g>
<g id="f-n67"><circle class="g" cx="1126" cy="628" r="4.5"/><text x="1126" y="622.5">unclassified_Rhizobiales</text></g>
<g id="f-n68"><circle class="g" cx="1150" cy="636" r="4.5"/><text x="1150" y="630.5">Rhodanobacter</text></g>
<g id="f-n69"><circle class="g" cx="1174" cy="638" r="4.5"/><text x="1176" y="632.5">Reyranella</text></g>
<g id="f-n70"><circle class="g" cx="1115" cy="650" r="4.5"/><text x="1108" y="644.5">uncultured_Nitrosomonadaceae</text></g>
<g id="f-n71"><circle class="g" cx="1137" cy="659" r="4.5"/><text x="1137" y="653.5">WD2101_soil_group</text></g>
<g id="f-n72"><circle class="g" cx="1163" cy="656" r="4.5"/><text x="1163" y="650.5">Chujaibacter</text></g>
<g id="f-n73"><circle class="p" cx="1035" cy="642" r="2.5"/><text x="1030" y="638.5">Sandaracinus</text></g>
<g id="f-n74"><circle class="p" cx="1059" cy="657" r="3"/><text x="1064" y="653">unclassified_Burkholderiales</text></g>
<g id="f-n75"><circle class="p" cx="1039" cy="668" r="3"/><text x="1039" y="664">Ensifer</text></g>
<g id="f-n76"><circle class="p" cx="1064" cy="684" r="2.5"/><text x="1064" y="680.5">Agromyces</text></g>
<g id="f-n77"><circle class="c" cx="905" cy="652" r="2.5"/><text x="905" y="648.5">Rhodobacteraceae</text></g>
<g id="f-n78"><circle class="c" cx="931" cy="658" r="2.5"/><text x="933" y="654.5">Nitrosomonadaceae</text></g>
<g id="f-n79"><circle class="c" cx="917" cy="678" r="2.5"/><text x="917" y="674.5">uncultured_Acetobacteraceae</text></g>
<g id="f-n80"><circle class="y" cx="993" cy="644" r="1.8"/><text x="993" y="641">Elstera</text></g>
<g id="f-n81"><circle class="y" cx="973" cy="659" r="1.8"/><text x="973" y="656">Lautropia</text></g>
<g id="f-n82"><circle class="y" cx="956" cy="695" r="1.5"/><text x="956" y="692.5">uncultured_Vicinamibacteraceae</text></g>
<g id="f-n83"><circle class="y" cx="958" cy="717" r="1.5"/><text x="958" y="714.5">MB-A2-108</text></g>
<g id="f-n84"><circle class="y" cx="1002" cy="689" r="2.5"/><text x="1002" y="685.5">unclassified_Comamonadaceae</text></g>
<g id="f-n85"><circle class="y" cx="999" cy="713" r="2.5"/><text x="999" y="709.5">Desulfobacter</text></g>
<g id="f-n86"><circle class="y" cx="1025" cy="704" r="2.5"/><text x="1025" y="700.5">Luteibacter</text></g>
<g id="f-n87"><circle class="y" cx="1198" cy="693" r="1.8"/><text x="1198" y="690">Pseudolabrys</text></g>
<g id="f-n88"><circle class="y" cx="1177" cy="710" r="1.8"/><text x="1177" y="707">Lacibacter</text></g>
<g id="f-n89"><circle class="y" cx="1112" cy="718" r="2.5"/><text x="1112" y="714.5">uncultured_Desulfobacteria</text></g>
<g id="f-n90"><circle class="y" cx="1136" cy="727" r="2.5"/><text x="1136" y="723.5">mle1-7</text></g>
<g id="f-n91"><circle class="y" cx="1115" cy="742" r="2.5"/><text x="1115" y="738.5">Candidatus_Nomurabacteria</text></g>
<g id="f-n92"><circle class="y" cx="1070" cy="729" r="1.5"/><text x="1070" y="726.5">unclassified_Gammaproteobacteria</text></g>
<g id="f-n93"><circle class="y" cx="1068" cy="745" r="1.5"/><text x="1068" y="742.5">unclassified_Bacillaceae</text></g>
</g>
</svg>
